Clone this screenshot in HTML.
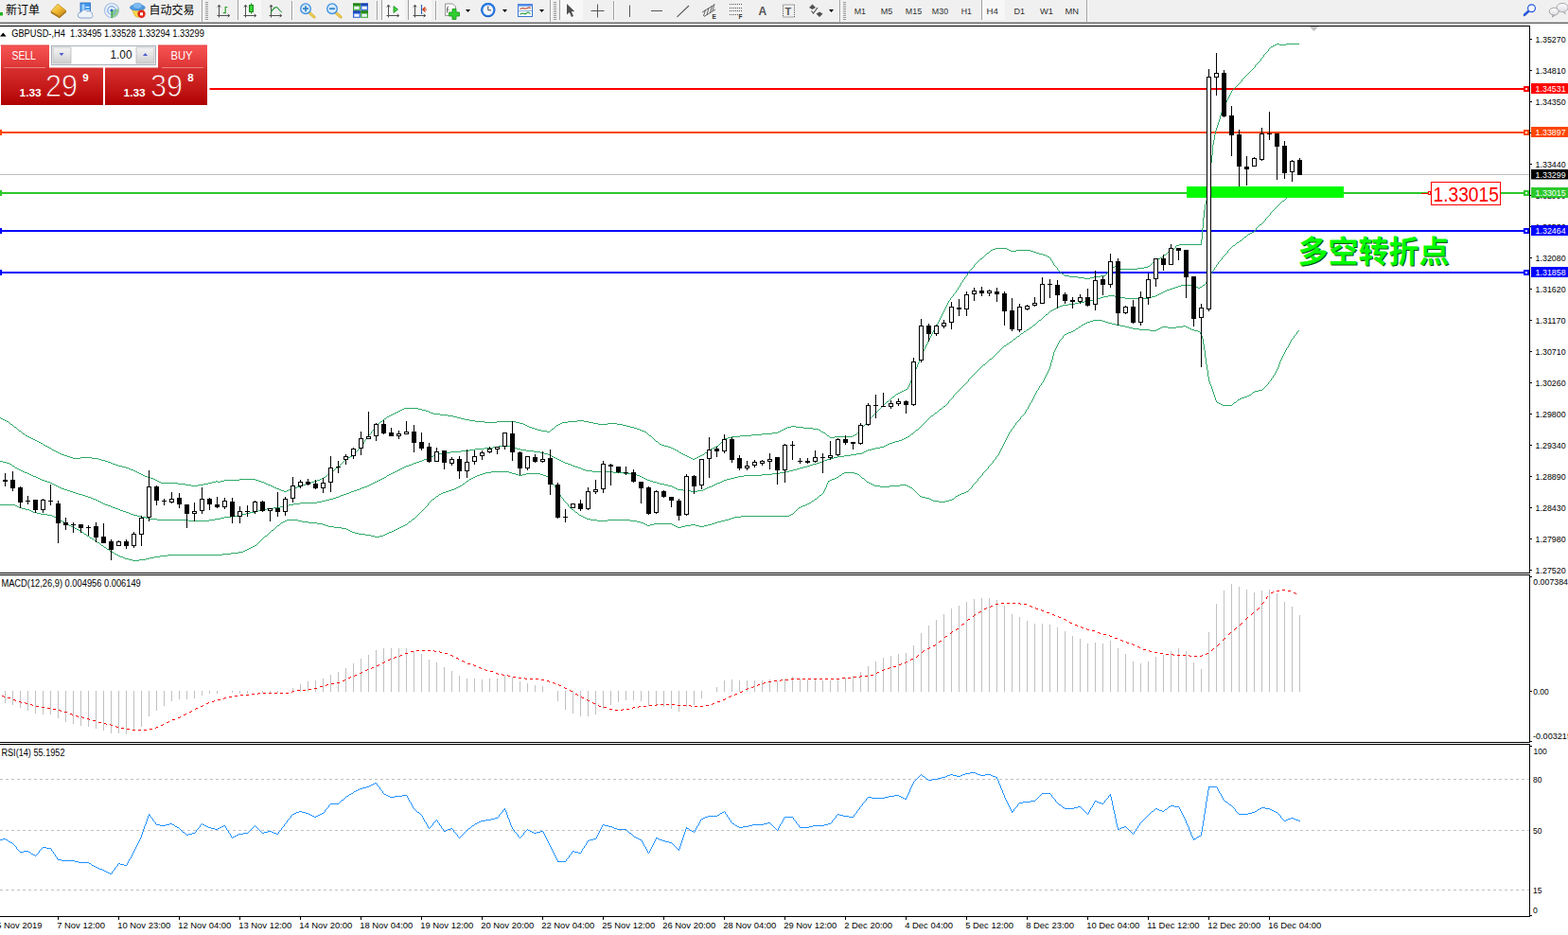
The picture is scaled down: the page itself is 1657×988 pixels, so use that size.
<!DOCTYPE html>
<html><head><meta charset="utf-8"><title>GBPUSD H4</title>
<style>
html,body{margin:0;padding:0;background:#fff;}
body{width:1657px;height:988px;overflow:hidden;position:relative;font-family:"Liberation Sans", sans-serif;}
svg{position:absolute;left:0;top:0;display:block;}
text{font-family:"Liberation Sans", sans-serif;white-space:pre;}
</style></head><body>
<svg width="1657" height="988" viewBox="0 0 1657 988">
<rect x="0" y="0" width="1657" height="988" fill="#fff"/>
<rect x="0" y="0" width="1657" height="22" fill="#f0f0f0"/>
<rect x="0" y="22" width="1657" height="1" fill="#f4f4f4"/>
<rect x="0" y="23" width="1657" height="1" fill="#b0b0b0"/>
<rect x="0" y="24" width="1657" height="1" fill="#696969"/>
<rect x="0" y="13" width="3" height="3.5" fill="#1fb41f"/>
<text x="6" y="14.6" font-size="12" fill="#000" style="font-family:'Liberation Sans','Noto Sans CJK SC',sans-serif">新订单</text>
<defs><linearGradient id="bb" x1="0" y1="0" x2="0" y2="1"><stop offset="0" stop-color="#ffffff"/><stop offset="1" stop-color="#d4d4e0"/></linearGradient><linearGradient id="gd" x1="0" y1="0" x2="1" y2="1"><stop offset="0" stop-color="#ffe680"/><stop offset="0.5" stop-color="#f0b830"/><stop offset="1" stop-color="#b87a10"/></linearGradient></defs>
<path d="M53.8 12 L61 4.2 L70 11.3 L62.8 17.2 Z" fill="url(#gd)" stroke="#c08a18" stroke-width="0.7"/>
<path d="M53.8 12 L62.8 17.2 L70 11.3 L70 13 L62.8 19.2 L53.8 13.8 Z" fill="#a87414"/>
<rect x="85" y="3" width="10.5" height="11" fill="#3f96ea" stroke="#2a6cc0" stroke-width="0.8"/><rect x="86.5" y="4.5" width="3" height="8" fill="#9fd0ff"/><rect x="90.5" y="7" width="4" height="1.2" fill="#e8f4ff"/><rect x="90.5" y="10" width="4" height="1.2" fill="#e8f4ff"/>
<path d="M85 19 a3 3 0 0 1 0.5 -6 a4 4 0 0 1 7 -1 a3.5 3.5 0 0 1 5 3.5 a2.2 2.2 0 0 1 -1.5 3.5 z" fill="#eef3fa" stroke="#7f9cc8" stroke-width="0.9"/>
<circle cx="118" cy="11" r="7.5" fill="#e6eef8" stroke="#a9c0e4" stroke-width="1.2"/><path d="M118 11 L118 18.5 A7.5 7.5 0 0 0 125.3 9 Z" fill="#8fce8f"/><circle cx="118" cy="11" r="4.2" fill="none" stroke="#6f9fe0" stroke-width="1.1"/><circle cx="118" cy="11" r="1.6" fill="#2a62d8"/><rect x="117.5" y="11" width="1.2" height="8" fill="#2aa02a"/>
<path d="M139 9 L152 9 L151 13 L146 18.5 L142.5 17 Z" fill="#f7d84a" stroke="#d8aa20" stroke-width="0.6"/>
<ellipse cx="145.3" cy="8" rx="8" ry="3.1" fill="#4f9ce0" stroke="#3c7cc4" stroke-width="0.6"/><ellipse cx="145.3" cy="6.2" rx="4.6" ry="2.9" fill="#7cbcf2" stroke="#4a8cd0" stroke-width="0.5"/>
<circle cx="149.5" cy="14.8" r="4.2" fill="#e02a1a"/><rect x="148" y="13.3" width="3" height="3" fill="#fff"/>
<text x="157.5" y="14.6" font-size="12" fill="#000" style="font-family:'Liberation Sans','Noto Sans CJK SC',sans-serif">自动交易</text>
<rect x="213" y="0" width="1" height="23" fill="#a0a0a0"/><rect x="214" y="0" width="1" height="23" fill="#fbfbfb"/>
<rect x="217" y="2" width="3" height="1" fill="#9a9a9a"/><rect x="217" y="4" width="3" height="1" fill="#9a9a9a"/><rect x="217" y="6" width="3" height="1" fill="#9a9a9a"/><rect x="217" y="8" width="3" height="1" fill="#9a9a9a"/><rect x="217" y="10" width="3" height="1" fill="#9a9a9a"/><rect x="217" y="12" width="3" height="1" fill="#9a9a9a"/><rect x="217" y="14" width="3" height="1" fill="#9a9a9a"/><rect x="217" y="16" width="3" height="1" fill="#9a9a9a"/><rect x="217" y="18" width="3" height="1" fill="#9a9a9a"/><rect x="217" y="20" width="3" height="1" fill="#9a9a9a"/>
<path d="M231.5 5.5 V18.5 M229.5 16.5 H242.5" stroke="#505050" stroke-width="1" fill="none"/><path d="M229.8 7.6 L231.5 5 L233.2 7.6 M240.6 14.8 L242.8 16.5 L240.6 18.2" stroke="#505050" stroke-width="0.9" fill="none"/>
<path d="M238.2 7 V14.2 M235.8 13.7 H238.2 M238.2 7.5 H240.4" stroke="#2aa02a" stroke-width="1.2" fill="none"/>
<rect x="251" y="0" width="25" height="21" fill="#f7f7f7"/><rect x="251" y="0" width="1" height="21" fill="#a0a0a0"/>
<path d="M259.5 5.5 V18.5 M257.5 16.5 H270.5" stroke="#505050" stroke-width="1" fill="none"/><path d="M257.8 7.6 L259.5 5 L261.2 7.6 M268.6 14.8 L270.8 16.5 L268.6 18.2" stroke="#505050" stroke-width="0.9" fill="none"/>
<rect x="263.5" y="5.5" width="4" height="7" fill="#3ad23a" stroke="#1a8a1a" stroke-width="1"/><path d="M265.5 3.4 V5 M265.5 13 V14.6" stroke="#1a8a1a" stroke-width="1"/>
<path d="M286.5 5.5 V18.5 M284.5 16.5 H297.5" stroke="#505050" stroke-width="1" fill="none"/><path d="M284.8 7.6 L286.5 5 L288.2 7.6 M295.6 14.8 L297.8 16.5 L295.6 18.2" stroke="#505050" stroke-width="0.9" fill="none"/>
<path d="M286 13.5 Q291 5 294 9 T298 12.5" stroke="#2a9a3a" stroke-width="1.2" fill="none"/>
<rect x="308" y="1" width="1" height="20" fill="#a0a0a0"/><rect x="309" y="1" width="1" height="20" fill="#fbfbfb"/>
<path d="M326.5 13 L332 18" stroke="#d8a820" stroke-width="3" stroke-linecap="round"/><path d="M326.5 13 L332 18" stroke="#f4d860" stroke-width="1.2" stroke-linecap="round"/>
<circle cx="323" cy="9.2" r="5.3" fill="#d6ecfa" stroke="#3c8ce0" stroke-width="1.3"/>
<path d="M320 9.2 H326 M323 6.2 V12.2" stroke="#3a86c8" stroke-width="1.8"/>
<path d="M354.5 13 L360 18" stroke="#d8a820" stroke-width="3" stroke-linecap="round"/><path d="M354.5 13 L360 18" stroke="#f4d860" stroke-width="1.2" stroke-linecap="round"/>
<circle cx="351" cy="9.2" r="5.3" fill="#d6ecfa" stroke="#3c8ce0" stroke-width="1.3"/>
<path d="M348 9.2 H354" stroke="#3a86c8" stroke-width="1.8"/>
<rect x="373" y="3.5" width="7.8" height="7.4" fill="#3aa82a"/><rect x="373" y="3.5" width="7.8" height="2" fill="#1f7a12"/><rect x="374.2" y="6.7" width="5.4" height="3.2" fill="#eef4ff"/>
<rect x="381.2" y="3.5" width="7.8" height="7.4" fill="#2a62d8"/><rect x="381.2" y="3.5" width="7.8" height="2" fill="#1840a8"/><rect x="382.4" y="6.7" width="5.4" height="3.2" fill="#eef4ff"/>
<rect x="373" y="11.4" width="7.8" height="7.4" fill="#2a62d8"/><rect x="373" y="11.4" width="7.8" height="2" fill="#1840a8"/><rect x="374.2" y="14.600000000000001" width="5.4" height="3.2" fill="#eef4ff"/>
<rect x="381.2" y="11.4" width="7.8" height="7.4" fill="#3aa82a"/><rect x="381.2" y="11.4" width="7.8" height="2" fill="#1f7a12"/><rect x="382.4" y="14.600000000000001" width="5.4" height="3.2" fill="#eef4ff"/>
<rect x="398" y="1" width="1" height="20" fill="#a0a0a0"/><rect x="399" y="1" width="1" height="20" fill="#fbfbfb"/>
<rect x="403" y="0" width="25" height="21" fill="#f7f7f7"/><rect x="403" y="0" width="1" height="21" fill="#a0a0a0"/>
<path d="M410.5 5.5 V18.5 M408.5 16.5 H421.5" stroke="#505050" stroke-width="1" fill="none"/><path d="M408.8 7.6 L410.5 5 L412.2 7.6 M419.6 14.8 L421.8 16.5 L419.6 18.2" stroke="#505050" stroke-width="0.9" fill="none"/>
<path d="M416 6.5 L420.5 10 L416 13.5 Z" fill="#3ad23a" stroke="#1a8a1a" stroke-width="0.8"/>
<rect x="431" y="0" width="25" height="21" fill="#f7f7f7"/><rect x="431" y="0" width="1" height="21" fill="#a0a0a0"/>
<path d="M438.5 5.5 V18.5 M436.5 16.5 H449.5" stroke="#505050" stroke-width="1" fill="none"/><path d="M436.8 7.6 L438.5 5 L440.2 7.6 M447.6 14.8 L449.8 16.5 L447.6 18.2" stroke="#505050" stroke-width="0.9" fill="none"/>
<path d="M445.5 5 V15" stroke="#2a62b8" stroke-width="1.2"/><path d="M451 10 H447 M449.5 7.5 L446.8 10 L449.5 12.5" stroke="#c83a10" stroke-width="1.2" fill="none"/>
<rect x="460" y="1" width="1" height="20" fill="#a0a0a0"/><rect x="461" y="1" width="1" height="20" fill="#fbfbfb"/>
<path d="M470.5 4 h8 l3 3 v9.5 h-11 z" fill="#fcfcfc" stroke="#8a8a8a" stroke-width="0.9"/><path d="M474 7 q-1.5 0 -1.5 2 v4.5 M472.5 10 h2" stroke="#555" stroke-width="0.9" fill="none"/>
<path d="M478 9.5 h4 v3.5 h3.5 v4 h-3.5 v3.5 h-4 v-3.5 h-3.5 v-4 h3.5 z" fill="#2fd02f" stroke="#189018" stroke-width="0.8"/>
<path d="M492 10 h5 l-2.5 3 z" fill="#000"/>
<circle cx="515.8" cy="10.6" r="7.7" fill="#1a5cc0"/><circle cx="515.8" cy="10.2" r="7.2" fill="#2a7ae4"/><circle cx="515.8" cy="10.6" r="5.4" fill="#f4f7fb"/><path d="M515.8 6.5 V10.8 H519" stroke="#444" stroke-width="1" fill="none"/>
<path d="M531 10 h5 l-2.5 3 z" fill="#000"/>
<rect x="547.5" y="4.5" width="15" height="13" fill="#fafcff" stroke="#3c74d0" stroke-width="1"/><rect x="547.5" y="4.5" width="15" height="2.2" fill="#5a92e6"/><rect x="548" y="11" width="14" height="0.8" fill="#7aa0dc"/><path d="M549.5 9.6 l3 -1 l3 0.6 l3 -1.2 l2.5 0.2" stroke="#b8401a" stroke-width="1.1" fill="none"/><path d="M549.5 15 l3 -1 l2.5 0.8 l3 -2 l2.5 1.8" stroke="#1f9a2a" stroke-width="1.1" fill="none"/>
<path d="M570 10 h5 l-2.5 3 z" fill="#000"/>
<rect x="581" y="0" width="1" height="23" fill="#a0a0a0"/><rect x="582" y="0" width="1" height="23" fill="#fbfbfb"/>
<rect x="585" y="2" width="3" height="1" fill="#9a9a9a"/><rect x="585" y="4" width="3" height="1" fill="#9a9a9a"/><rect x="585" y="6" width="3" height="1" fill="#9a9a9a"/><rect x="585" y="8" width="3" height="1" fill="#9a9a9a"/><rect x="585" y="10" width="3" height="1" fill="#9a9a9a"/><rect x="585" y="12" width="3" height="1" fill="#9a9a9a"/><rect x="585" y="14" width="3" height="1" fill="#9a9a9a"/><rect x="585" y="16" width="3" height="1" fill="#9a9a9a"/><rect x="585" y="18" width="3" height="1" fill="#9a9a9a"/><rect x="585" y="20" width="3" height="1" fill="#9a9a9a"/>
<rect x="591" y="0" width="25" height="21" fill="#f7f7f7"/><rect x="591" y="0" width="1" height="21" fill="#a0a0a0"/>
<path d="M599 4 L599 15.5 L601.8 13 L604 18 L606 17 L603.8 12.2 L607.2 12 Z" fill="#505050"/>
<path d="M631.5 4.5 V18.5 M624.5 11.5 H638.5" stroke="#555" stroke-width="1"/>
<rect x="648" y="1" width="1" height="20" fill="#a0a0a0"/><rect x="649" y="1" width="1" height="20" fill="#fbfbfb"/>
<path d="M665.5 5.5 V18" stroke="#555" stroke-width="1"/><path d="M688 11.5 H700" stroke="#555" stroke-width="1"/><path d="M715.5 17.8 L728 6" stroke="#555" stroke-width="1.1"/>
<path d="M742 13 L754 5.5 M744 17.5 L756 10 M745.5 10.2 L743.5 17 M749 8.2 L747 15.8 M752.5 6 L750.5 13.6 M755 4 L753 11.5" stroke="#555" stroke-width="0.9" fill="none"/>
<text x="752.6" y="19.8" font-size="6.5" font-weight="bold" fill="#333">E</text>
<path d="M771 4.5 H784" stroke="#555" stroke-width="1" stroke-dasharray="1,1"/>
<path d="M771 8.5 H784" stroke="#555" stroke-width="1" stroke-dasharray="1,1"/>
<path d="M771 11.5 H784" stroke="#555" stroke-width="1" stroke-dasharray="1,1"/>
<path d="M771 15.5 H784" stroke="#555" stroke-width="1" stroke-dasharray="1,1"/>
<text x="780.6" y="20" font-size="6.5" font-weight="bold" fill="#333">F</text>
<text x="801.6" y="16" font-size="12" font-weight="bold" fill="#555">A</text>
<rect x="827.5" y="5" width="12" height="13" fill="none" stroke="#555" stroke-width="1" stroke-dasharray="1,1"/><text x="829.6" y="16" font-size="11" font-weight="bold" fill="#555">T</text>
<path d="M858.5 4.5 l3.5 3.5 l-3.5 2 l-3.5 -2 z M866 12.5 l3.5 2 l-3.5 3.5 l-3.5 -3.5 z" fill="#505050"/><path d="M857.5 11.5 l2 2.5 l4.5 -6" stroke="#505050" stroke-width="1.2" fill="none"/>
<path d="M876 10 h5 l-2.5 3 z" fill="#000"/>
<rect x="887" y="0" width="1" height="23" fill="#a0a0a0"/><rect x="888" y="0" width="1" height="23" fill="#fbfbfb"/>
<rect x="891" y="2" width="3" height="1" fill="#9a9a9a"/><rect x="891" y="4" width="3" height="1" fill="#9a9a9a"/><rect x="891" y="6" width="3" height="1" fill="#9a9a9a"/><rect x="891" y="8" width="3" height="1" fill="#9a9a9a"/><rect x="891" y="10" width="3" height="1" fill="#9a9a9a"/><rect x="891" y="12" width="3" height="1" fill="#9a9a9a"/><rect x="891" y="14" width="3" height="1" fill="#9a9a9a"/><rect x="891" y="16" width="3" height="1" fill="#9a9a9a"/><rect x="891" y="18" width="3" height="1" fill="#9a9a9a"/><rect x="891" y="20" width="3" height="1" fill="#9a9a9a"/>
<rect x="1037" y="0" width="25" height="21" fill="#f7f7f7"/><rect x="1037" y="0" width="1" height="21" fill="#a0a0a0"/>
<text x="902.7" y="15" font-size="9.5" fill="#303030" textLength="12.3" lengthAdjust="spacingAndGlyphs">M1</text>
<text x="930.7" y="15" font-size="9.5" fill="#303030" textLength="12.5" lengthAdjust="spacingAndGlyphs">M5</text>
<text x="956.8" y="15" font-size="9.5" fill="#303030" textLength="17.3" lengthAdjust="spacingAndGlyphs">M15</text>
<text x="984.8" y="15" font-size="9.5" fill="#303030" textLength="17.3" lengthAdjust="spacingAndGlyphs">M30</text>
<text x="1015.7" y="15" font-size="9.5" fill="#303030" textLength="11.1" lengthAdjust="spacingAndGlyphs">H1</text>
<text x="1042.6" y="15" font-size="9.5" fill="#303030" textLength="12.3" lengthAdjust="spacingAndGlyphs">H4</text>
<text x="1071.5" y="15" font-size="9.5" fill="#303030" textLength="11.6" lengthAdjust="spacingAndGlyphs">D1</text>
<text x="1099" y="15" font-size="9.5" fill="#303030" textLength="14" lengthAdjust="spacingAndGlyphs">W1</text>
<text x="1125.6" y="15" font-size="9.5" fill="#303030" textLength="14.5" lengthAdjust="spacingAndGlyphs">MN</text>
<rect x="1148" y="0" width="1" height="23" fill="#a0a0a0"/><rect x="1149" y="0" width="1" height="23" fill="#fbfbfb"/>
<path d="M1615.4 11.8 L1611 15.8" stroke="#2a5ad8" stroke-width="2.6" stroke-linecap="round"/><circle cx="1618.5" cy="8.7" r="3.9" fill="#f8f9ff" stroke="#2458d8" stroke-width="1.2"/>
<path d="M1651 12.6 a6 4.6 0 1 1 2.2 -0.3 l1 2.4 l-2.4 -2.1 z" fill="url(#bb)" stroke="#a0a0a0" stroke-width="0.9"/>
<path d="M1642.2 16 a5 3.9 0 1 1 1.6 -0.2 l-3.6 2.2 l1.2 -2.2 z" fill="url(#bb)" stroke="#989898" stroke-width="0.9"/>
<rect x="0" y="27" width="1617" height="1" fill="#000" />
<rect x="0" y="605" width="1617" height="1" fill="#000" />
<rect x="0" y="607" width="1617" height="1" fill="#000" />
<rect x="0" y="784" width="1617" height="1" fill="#000" />
<rect x="0" y="786" width="1617" height="1" fill="#000" />
<rect x="0" y="968" width="1617" height="1" fill="#000" />
<rect x="1616" y="27" width="1" height="579" fill="#000" />
<rect x="1616" y="607" width="1" height="178" fill="#000" />
<rect x="1616" y="786" width="1" height="183" fill="#000" />
<rect x="1617" y="41" width="2" height="1" fill="#000" />
<text x="1622.6" y="44.9" font-size="9.5" fill="#000" textLength="32" lengthAdjust="spacingAndGlyphs" >1.35270</text>
<rect x="1617" y="74" width="2" height="1" fill="#000" />
<text x="1622.6" y="77.9" font-size="9.5" fill="#000" textLength="32" lengthAdjust="spacingAndGlyphs" >1.34810</text>
<rect x="1617" y="107" width="2" height="1" fill="#000" />
<text x="1622.6" y="110.9" font-size="9.5" fill="#000" textLength="32" lengthAdjust="spacingAndGlyphs" >1.34350</text>
<rect x="1617" y="140" width="2" height="1" fill="#000" />
<text x="1622.6" y="143.9" font-size="9.5" fill="#000" textLength="32" lengthAdjust="spacingAndGlyphs" >1.33900</text>
<rect x="1617" y="173" width="2" height="1" fill="#000" />
<text x="1622.6" y="176.9" font-size="9.5" fill="#000" textLength="32" lengthAdjust="spacingAndGlyphs" >1.33440</text>
<rect x="1617" y="206" width="2" height="1" fill="#000" />
<text x="1622.6" y="209.9" font-size="9.5" fill="#000" textLength="32" lengthAdjust="spacingAndGlyphs" >1.32990</text>
<rect x="1617" y="239" width="2" height="1" fill="#000" />
<text x="1622.6" y="242.9" font-size="9.5" fill="#000" textLength="32" lengthAdjust="spacingAndGlyphs" >1.32530</text>
<rect x="1617" y="272" width="2" height="1" fill="#000" />
<text x="1622.6" y="275.9" font-size="9.5" fill="#000" textLength="32" lengthAdjust="spacingAndGlyphs" >1.32080</text>
<rect x="1617" y="305" width="2" height="1" fill="#000" />
<text x="1622.6" y="308.9" font-size="9.5" fill="#000" textLength="32" lengthAdjust="spacingAndGlyphs" >1.31620</text>
<rect x="1617" y="338" width="2" height="1" fill="#000" />
<text x="1622.6" y="341.9" font-size="9.5" fill="#000" textLength="32" lengthAdjust="spacingAndGlyphs" >1.31170</text>
<rect x="1617" y="371" width="2" height="1" fill="#000" />
<text x="1622.6" y="374.9" font-size="9.5" fill="#000" textLength="32" lengthAdjust="spacingAndGlyphs" >1.30710</text>
<rect x="1617" y="404" width="2" height="1" fill="#000" />
<text x="1622.6" y="407.9" font-size="9.5" fill="#000" textLength="32" lengthAdjust="spacingAndGlyphs" >1.30260</text>
<rect x="1617" y="437" width="2" height="1" fill="#000" />
<text x="1622.6" y="440.9" font-size="9.5" fill="#000" textLength="32" lengthAdjust="spacingAndGlyphs" >1.29800</text>
<rect x="1617" y="470" width="2" height="1" fill="#000" />
<text x="1622.6" y="473.9" font-size="9.5" fill="#000" textLength="32" lengthAdjust="spacingAndGlyphs" >1.29340</text>
<rect x="1617" y="503" width="2" height="1" fill="#000" />
<text x="1622.6" y="506.9" font-size="9.5" fill="#000" textLength="32" lengthAdjust="spacingAndGlyphs" >1.28890</text>
<rect x="1617" y="536" width="2" height="1" fill="#000" />
<text x="1622.6" y="539.9" font-size="9.5" fill="#000" textLength="32" lengthAdjust="spacingAndGlyphs" >1.28430</text>
<rect x="1617" y="569" width="2" height="1" fill="#000" />
<text x="1622.6" y="572.9" font-size="9.5" fill="#000" textLength="32" lengthAdjust="spacingAndGlyphs" >1.27980</text>
<rect x="1617" y="602" width="2" height="1" fill="#000" />
<text x="1622.6" y="605.9" font-size="9.5" fill="#000" textLength="32" lengthAdjust="spacingAndGlyphs" >1.27520</text>
<rect x="1617" y="609" width="2" height="1" fill="#000" />
<text x="1620.3" y="618.0" font-size="9.5" fill="#000" textLength="36.6" lengthAdjust="spacingAndGlyphs" >0.007384</text>
<rect x="1617" y="730" width="2" height="1" fill="#000" />
<text x="1620.3" y="734.4" font-size="9.5" fill="#000" textLength="16.5" lengthAdjust="spacingAndGlyphs" >0.00</text>
<rect x="1617" y="783" width="2" height="1" fill="#000" />
<text x="1620.0" y="781" font-size="9.5" fill="#000" textLength="41" lengthAdjust="spacingAndGlyphs" >-0.003215</text>
<rect x="1617" y="788" width="2" height="1" fill="#000" />
<text x="1620.5" y="797" font-size="9.5" fill="#000" textLength="14.2" lengthAdjust="spacingAndGlyphs" >100</text>
<text x="1620" y="826.8" font-size="9.5" fill="#000" textLength="9.4" lengthAdjust="spacingAndGlyphs" >80</text>
<text x="1620" y="881" font-size="9.5" fill="#000" textLength="9.4" lengthAdjust="spacingAndGlyphs" >50</text>
<text x="1620" y="944" font-size="9.5" fill="#000" textLength="9.4" lengthAdjust="spacingAndGlyphs" >15</text>
<text x="1620" y="965" font-size="9.5" fill="#000" textLength="4.8" lengthAdjust="spacingAndGlyphs" >0</text>
<rect x="1617" y="967" width="2" height="1" fill="#000" />
<text x="-3.8" y="981" font-size="9.7" fill="#000" textLength="48.2" lengthAdjust="spacingAndGlyphs" >5 Nov 2019</text>
<rect x="61" y="969" width="1" height="3" fill="#000" />
<text x="60.2" y="981" font-size="9.7" fill="#000" textLength="50.8" lengthAdjust="spacingAndGlyphs" >7 Nov 12:00</text>
<rect x="125" y="969" width="1" height="3" fill="#000" />
<text x="124.2" y="981" font-size="9.7" fill="#000" textLength="56.1" lengthAdjust="spacingAndGlyphs" >10 Nov 23:00</text>
<rect x="189" y="969" width="1" height="3" fill="#000" />
<text x="188.2" y="981" font-size="9.7" fill="#000" textLength="56.1" lengthAdjust="spacingAndGlyphs" >12 Nov 04:00</text>
<rect x="253" y="969" width="1" height="3" fill="#000" />
<text x="252.2" y="981" font-size="9.7" fill="#000" textLength="56.1" lengthAdjust="spacingAndGlyphs" >13 Nov 12:00</text>
<rect x="317" y="969" width="1" height="3" fill="#000" />
<text x="316.2" y="981" font-size="9.7" fill="#000" textLength="56.1" lengthAdjust="spacingAndGlyphs" >14 Nov 20:00</text>
<rect x="381" y="969" width="1" height="3" fill="#000" />
<text x="380.2" y="981" font-size="9.7" fill="#000" textLength="56.1" lengthAdjust="spacingAndGlyphs" >18 Nov 04:00</text>
<rect x="445" y="969" width="1" height="3" fill="#000" />
<text x="444.2" y="981" font-size="9.7" fill="#000" textLength="56.1" lengthAdjust="spacingAndGlyphs" >19 Nov 12:00</text>
<rect x="509" y="969" width="1" height="3" fill="#000" />
<text x="508.2" y="981" font-size="9.7" fill="#000" textLength="56.1" lengthAdjust="spacingAndGlyphs" >20 Nov 20:00</text>
<rect x="573" y="969" width="1" height="3" fill="#000" />
<text x="572.2" y="981" font-size="9.7" fill="#000" textLength="56.1" lengthAdjust="spacingAndGlyphs" >22 Nov 04:00</text>
<rect x="637" y="969" width="1" height="3" fill="#000" />
<text x="636.2" y="981" font-size="9.7" fill="#000" textLength="56.1" lengthAdjust="spacingAndGlyphs" >25 Nov 12:00</text>
<rect x="701" y="969" width="1" height="3" fill="#000" />
<text x="700.2" y="981" font-size="9.7" fill="#000" textLength="56.1" lengthAdjust="spacingAndGlyphs" >26 Nov 20:00</text>
<rect x="765" y="969" width="1" height="3" fill="#000" />
<text x="764.2" y="981" font-size="9.7" fill="#000" textLength="56.1" lengthAdjust="spacingAndGlyphs" >28 Nov 04:00</text>
<rect x="829" y="969" width="1" height="3" fill="#000" />
<text x="828.2" y="981" font-size="9.7" fill="#000" textLength="56.1" lengthAdjust="spacingAndGlyphs" >29 Nov 12:00</text>
<rect x="893" y="969" width="1" height="3" fill="#000" />
<text x="892.2" y="981" font-size="9.7" fill="#000" textLength="50.8" lengthAdjust="spacingAndGlyphs" >2 Dec 20:00</text>
<rect x="957" y="969" width="1" height="3" fill="#000" />
<text x="956.2" y="981" font-size="9.7" fill="#000" textLength="50.8" lengthAdjust="spacingAndGlyphs" >4 Dec 04:00</text>
<rect x="1021" y="969" width="1" height="3" fill="#000" />
<text x="1020.2" y="981" font-size="9.7" fill="#000" textLength="50.8" lengthAdjust="spacingAndGlyphs" >5 Dec 12:00</text>
<rect x="1085" y="969" width="1" height="3" fill="#000" />
<text x="1084.2" y="981" font-size="9.7" fill="#000" textLength="50.8" lengthAdjust="spacingAndGlyphs" >8 Dec 23:00</text>
<rect x="1149" y="969" width="1" height="3" fill="#000" />
<text x="1148.2" y="981" font-size="9.7" fill="#000" textLength="56.1" lengthAdjust="spacingAndGlyphs" >10 Dec 04:00</text>
<rect x="1213" y="969" width="1" height="3" fill="#000" />
<text x="1212.2" y="981" font-size="9.7" fill="#000" textLength="55.4" lengthAdjust="spacingAndGlyphs" >11 Dec 12:00</text>
<rect x="1277" y="969" width="1" height="3" fill="#000" />
<text x="1276.2" y="981" font-size="9.7" fill="#000" textLength="56.1" lengthAdjust="spacingAndGlyphs" >12 Dec 20:00</text>
<rect x="1341" y="969" width="1" height="3" fill="#000" />
<text x="1340.2" y="981" font-size="9.7" fill="#000" textLength="56.1" lengthAdjust="spacingAndGlyphs" >16 Dec 04:00</text>
<rect x="0" y="184" width="1616" height="1" fill="#c0c0c0" />
<rect x="0" y="93" width="1616" height="2" fill="#ff0000" />
<rect x="0" y="139" width="1616" height="2" fill="#ff4500" />
<rect x="0" y="203" width="1616" height="2" fill="#2cc82c" />
<rect x="0" y="243" width="1616" height="2" fill="#0000ff" />
<rect x="0" y="287" width="1616" height="2" fill="#0000ff" />
<rect x="1502" y="204" width="8" height="1" fill="#ff0000" />
<rect x="1509.5" y="202.5" width="2" height="3" fill="#fff" stroke="#ff0000" stroke-width="1"/>
<rect x="1512.5" y="192.5" width="73" height="24" fill="#fff" stroke="#ff0000" stroke-width="1"/>
<text x="1514.5" y="212.7" font-size="22.5" fill="#ff0000" textLength="69.4" lengthAdjust="spacingAndGlyphs" >1.33015</text>
<text x="1372.5" y="277.9" font-size="32" font-weight="bold" fill="#0c4c0c" textLength="160" lengthAdjust="spacingAndGlyphs" style="font-family:'Liberation Sans','Noto Sans CJK SC',sans-serif">多空转折点</text>
<text x="1371.5" y="276.9" font-size="32" font-weight="bold" fill="#00ff00" textLength="160" lengthAdjust="spacingAndGlyphs" style="font-family:'Liberation Sans','Noto Sans CJK SC',sans-serif">多空转折点</text>
<path d="M1275 209h1v3h-1zM1274 212h1v4h-1zM1273 216h1v6h-1zM1272 222h1v8h-1zM1271 230h1v11h-1zM1270 241h1v12h-1zM1269 253h1v6h-1zM1246 258h23v1h-23zM1243 259h3v1h-3zM1242 260h1v2h-1zM1052 262h12v1h-12zM1241 262h1v1h-1zM1049 263h3v1h-3zM1064 263h2v1h-2zM1239 263h2v1h-2zM1047 264h2v1h-2zM1066 264h2v1h-2zM1074 264h15v1h-15zM1237 264h2v1h-2zM1046 265h1v1h-1zM1068 265h6v1h-6zM1089 265h3v1h-3zM1235 265h2v1h-2zM1045 266h1v1h-1zM1092 266h3v1h-3zM1234 266h1v1h-1zM1043 267h2v1h-2zM1095 267h3v1h-3zM1233 267h1v1h-1zM1042 268h1v1h-1zM1098 268h4v1h-4zM1232 268h1v1h-1zM1041 269h1v1h-1zM1102 269h3v1h-3zM1230 269h2v1h-2zM1040 270h1v1h-1zM1105 270h2v1h-2zM1229 270h1v1h-1zM1039 271h1v1h-1zM1107 271h2v1h-2zM1228 271h1v1h-1zM1038 272h1v1h-1zM1109 272h1v1h-1zM1226 272h2v1h-2zM1036 273h2v1h-2zM1110 273h1v2h-1zM1224 273h2v1h-2zM1035 274h1v1h-1zM1222 274h2v1h-2zM1034 275h1v1h-1zM1111 275h1v1h-1zM1220 275h2v1h-2zM1033 276h1v1h-1zM1112 276h1v2h-1zM1219 276h1v1h-1zM1032 277h1v1h-1zM1218 277h1v1h-1zM1031 278h1v1h-1zM1113 278h1v2h-1zM1217 278h1v1h-1zM1030 279h1v1h-1zM1216 279h1v1h-1zM1029 280h1v2h-1zM1114 280h1v1h-1zM1215 280h1v1h-1zM1115 281h1v1h-1zM1178 281h2v1h-2zM1213 281h2v1h-2zM1028 282h1v1h-1zM1116 282h1v1h-1zM1176 282h2v1h-2zM1180 282h2v1h-2zM1209 282h4v1h-4zM1027 283h1v1h-1zM1117 283h1v2h-1zM1175 283h1v1h-1zM1182 283h2v1h-2zM1202 283h7v1h-7zM1026 284h1v1h-1zM1173 284h2v1h-2zM1184 284h18v1h-18zM1025 285h1v1h-1zM1118 285h1v1h-1zM1172 285h1v1h-1zM1024 286h1v2h-1zM1119 286h1v1h-1zM1171 286h1v1h-1zM1120 287h1v1h-1zM1170 287h1v2h-1zM1023 288h1v1h-1zM1121 288h1v1h-1zM1022 289h1v2h-1zM1122 289h2v1h-2zM1169 289h1v1h-1zM1124 290h1v1h-1zM1168 290h1v1h-1zM1021 291h1v1h-1zM1125 291h5v1h-5zM1163 291h5v1h-5zM1020 292h1v1h-1zM1130 292h9v1h-9zM1156 292h7v1h-7zM1019 293h1v2h-1zM1139 293h7v1h-7zM1152 293h4v1h-4zM1146 294h6v1h-6zM1018 295h1v1h-1zM1017 296h1v2h-1zM1016 298h1v1h-1zM1015 299h1v2h-1zM1014 301h1v2h-1zM1013 303h1v1h-1zM1012 304h1v2h-1zM1011 306h1v1h-1zM1010 307h1v2h-1zM1009 309h1v1h-1zM1008 310h1v1h-1zM1007 311h1v2h-1zM1006 313h1v1h-1zM1005 314h1v1h-1zM1004 315h1v2h-1zM1003 317h1v1h-1zM1002 318h1v2h-1zM1001 320h1v2h-1zM1000 322h1v2h-1zM999 324h1v2h-1zM998 326h1v2h-1zM997 328h1v2h-1zM996 330h1v2h-1zM995 332h1v2h-1zM994 334h1v2h-1zM993 336h1v2h-1zM992 338h1v2h-1zM991 340h1v2h-1zM990 342h1v2h-1zM989 344h1v1h-1zM988 345h1v2h-1zM987 347h1v2h-1zM986 349h1v2h-1zM985 351h1v2h-1zM984 353h1v2h-1zM983 355h1v2h-1zM982 357h1v2h-1zM981 359h1v2h-1zM980 361h1v2h-1zM979 363h1v2h-1zM978 365h1v2h-1zM977 367h1v2h-1zM976 369h1v2h-1zM975 371h1v2h-1zM974 373h1v2h-1zM973 375h1v2h-1zM972 377h1v3h-1zM971 380h1v3h-1zM970 383h1v2h-1zM969 385h1v3h-1zM968 388h1v2h-1zM967 390h1v3h-1zM966 393h1v2h-1zM965 395h1v2h-1zM964 397h1v3h-1zM963 400h1v2h-1zM962 402h1v3h-1zM961 405h1v2h-1zM960 407h1v2h-1zM959 409h1v2h-1zM957 411h2v1h-2zM955 412h2v1h-2zM953 413h2v1h-2zM951 414h2v1h-2zM949 415h2v1h-2zM947 416h2v1h-2zM946 417h1v1h-1zM945 418h1v1h-1zM943 419h2v1h-2zM942 420h1v1h-1zM941 421h1v1h-1zM940 422h1v1h-1zM939 423h1v1h-1zM937 424h2v1h-2zM936 425h1v1h-1zM935 426h1v1h-1zM934 427h1v1h-1zM933 428h1v1h-1zM932 429h1v1h-1zM931 430h1v1h-1zM427 431h15v1h-15zM930 431h1v1h-1zM425 432h2v1h-2zM442 432h4v1h-4zM929 432h1v1h-1zM423 433h2v1h-2zM446 433h4v1h-4zM928 433h1v1h-1zM421 434h2v1h-2zM450 434h3v1h-3zM927 434h1v1h-1zM419 435h2v1h-2zM453 435h2v1h-2zM926 435h1v1h-1zM417 436h2v1h-2zM455 436h3v1h-3zM925 436h1v1h-1zM415 437h2v1h-2zM458 437h7v1h-7zM924 437h1v1h-1zM413 438h2v1h-2zM465 438h8v1h-8zM923 438h1v1h-1zM411 439h2v1h-2zM473 439h6v1h-6zM922 439h1v1h-1zM409 440h2v1h-2zM479 440h4v1h-4zM921 440h1v1h-1zM0 441h1v1h-1zM408 441h1v1h-1zM483 441h4v1h-4zM920 441h1v1h-1zM1 442h2v1h-2zM406 442h2v1h-2zM487 442h4v1h-4zM919 442h1v1h-1zM3 443h2v1h-2zM405 443h1v1h-1zM491 443h5v1h-5zM918 443h1v1h-1zM5 444h2v1h-2zM404 444h1v1h-1zM496 444h6v1h-6zM610 444h7v1h-7zM917 444h1v1h-1zM7 445h2v1h-2zM402 445h2v1h-2zM502 445h10v1h-10zM525 445h20v1h-20zM600 445h10v1h-10zM617 445h5v1h-5zM916 445h1v2h-1zM9 446h1v1h-1zM401 446h1v1h-1zM512 446h13v1h-13zM545 446h4v1h-4zM594 446h6v1h-6zM622 446h5v1h-5zM10 447h1v1h-1zM400 447h1v1h-1zM549 447h4v1h-4zM592 447h2v1h-2zM627 447h5v1h-5zM642 447h10v1h-10zM915 447h1v1h-1zM11 448h2v1h-2zM399 448h1v1h-1zM553 448h2v1h-2zM590 448h2v1h-2zM632 448h10v1h-10zM652 448h6v1h-6zM914 448h1v1h-1zM13 449h1v1h-1zM398 449h1v2h-1zM555 449h2v1h-2zM588 449h2v1h-2zM658 449h4v1h-4zM913 449h1v1h-1zM14 450h1v1h-1zM557 450h2v1h-2zM587 450h1v1h-1zM662 450h4v1h-4zM836 450h5v1h-5zM912 450h1v1h-1zM15 451h2v1h-2zM397 451h1v1h-1zM559 451h3v1h-3zM586 451h1v1h-1zM666 451h4v1h-4zM832 451h4v1h-4zM841 451h8v1h-8zM911 451h1v1h-1zM17 452h1v1h-1zM396 452h1v1h-1zM562 452h3v1h-3zM585 452h1v1h-1zM670 452h3v1h-3zM830 452h2v1h-2zM849 452h10v1h-10zM910 452h1v1h-1zM18 453h1v1h-1zM395 453h1v1h-1zM565 453h3v1h-3zM583 453h2v1h-2zM673 453h3v1h-3zM828 453h2v1h-2zM859 453h6v1h-6zM909 453h1v2h-1zM19 454h1v1h-1zM394 454h1v1h-1zM568 454h4v1h-4zM582 454h1v1h-1zM676 454h2v1h-2zM826 454h2v1h-2zM865 454h2v1h-2zM20 455h2v1h-2zM393 455h1v1h-1zM572 455h6v1h-6zM581 455h1v1h-1zM678 455h3v1h-3zM824 455h2v1h-2zM867 455h1v1h-1zM908 455h1v1h-1zM22 456h1v1h-1zM392 456h1v2h-1zM578 456h3v1h-3zM681 456h2v1h-2zM822 456h2v1h-2zM868 456h2v1h-2zM907 456h1v1h-1zM23 457h1v1h-1zM683 457h1v1h-1zM816 457h6v1h-6zM870 457h2v1h-2zM906 457h1v1h-1zM24 458h2v1h-2zM391 458h1v1h-1zM684 458h1v1h-1zM805 458h11v1h-11zM872 458h1v1h-1zM905 458h1v1h-1zM26 459h1v1h-1zM390 459h1v1h-1zM685 459h1v1h-1zM794 459h11v1h-11zM873 459h1v1h-1zM903 459h2v1h-2zM27 460h2v1h-2zM389 460h1v1h-1zM686 460h2v1h-2zM782 460h12v1h-12zM874 460h2v1h-2zM901 460h2v1h-2zM29 461h2v1h-2zM388 461h1v2h-1zM688 461h1v1h-1zM773 461h9v1h-9zM876 461h1v1h-1zM882 461h19v1h-19zM31 462h2v1h-2zM689 462h1v1h-1zM769 462h4v1h-4zM877 462h5v1h-5zM33 463h2v1h-2zM387 463h1v1h-1zM690 463h1v1h-1zM766 463h3v1h-3zM35 464h2v1h-2zM386 464h1v1h-1zM691 464h1v1h-1zM765 464h1v1h-1zM37 465h2v1h-2zM385 465h1v2h-1zM692 465h1v1h-1zM764 465h1v1h-1zM39 466h2v1h-2zM693 466h2v1h-2zM763 466h1v1h-1zM41 467h2v1h-2zM384 467h1v2h-1zM695 467h1v1h-1zM762 467h1v1h-1zM43 468h2v1h-2zM696 468h1v1h-1zM761 468h1v1h-1zM45 469h1v1h-1zM383 469h1v1h-1zM697 469h2v1h-2zM760 469h1v1h-1zM46 470h2v1h-2zM382 470h1v2h-1zM699 470h3v1h-3zM759 470h1v1h-1zM48 471h2v1h-2zM702 471h4v1h-4zM757 471h2v1h-2zM50 472h2v1h-2zM381 472h1v1h-1zM706 472h3v1h-3zM755 472h2v1h-2zM52 473h2v1h-2zM380 473h1v1h-1zM709 473h2v1h-2zM753 473h2v1h-2zM54 474h1v1h-1zM379 474h1v1h-1zM711 474h2v1h-2zM751 474h2v1h-2zM55 475h2v1h-2zM378 475h1v1h-1zM713 475h2v1h-2zM750 475h1v1h-1zM57 476h2v1h-2zM377 476h1v1h-1zM715 476h2v1h-2zM748 476h2v1h-2zM59 477h2v1h-2zM376 477h1v1h-1zM717 477h1v1h-1zM747 477h1v1h-1zM61 478h2v1h-2zM375 478h1v1h-1zM718 478h2v1h-2zM745 478h2v1h-2zM63 479h2v1h-2zM374 479h1v1h-1zM720 479h2v1h-2zM744 479h1v1h-1zM65 480h3v1h-3zM373 480h1v1h-1zM722 480h2v1h-2zM742 480h2v1h-2zM68 481h3v1h-3zM372 481h1v1h-1zM724 481h2v1h-2zM740 481h2v1h-2zM71 482h3v1h-3zM370 482h2v1h-2zM726 482h2v1h-2zM738 482h2v1h-2zM74 483h3v1h-3zM85 483h12v1h-12zM368 483h2v1h-2zM728 483h2v1h-2zM736 483h2v1h-2zM77 484h8v1h-8zM97 484h7v1h-7zM367 484h1v1h-1zM730 484h2v1h-2zM734 484h2v1h-2zM104 485h3v1h-3zM365 485h2v1h-2zM732 485h2v1h-2zM107 486h4v1h-4zM364 486h1v1h-1zM111 487h3v1h-3zM363 487h1v1h-1zM114 488h3v1h-3zM362 488h1v1h-1zM117 489h2v1h-2zM361 489h1v1h-1zM119 490h3v1h-3zM360 490h1v1h-1zM122 491h3v1h-3zM359 491h1v1h-1zM125 492h4v1h-4zM358 492h1v1h-1zM129 493h4v1h-4zM357 493h1v1h-1zM133 494h3v1h-3zM355 494h2v1h-2zM136 495h2v1h-2zM354 495h1v1h-1zM138 496h3v1h-3zM353 496h1v1h-1zM141 497h2v1h-2zM351 497h2v1h-2zM143 498h2v1h-2zM350 498h1v1h-1zM145 499h2v1h-2zM349 499h1v1h-1zM147 500h2v1h-2zM347 500h2v1h-2zM149 501h2v1h-2zM346 501h1v1h-1zM151 502h2v1h-2zM345 502h1v1h-1zM153 503h3v1h-3zM344 503h1v1h-1zM156 504h3v1h-3zM342 504h2v1h-2zM159 505h3v1h-3zM340 505h2v1h-2zM162 506h2v1h-2zM253 506h17v1h-17zM338 506h2v1h-2zM164 507h2v1h-2zM237 507h16v1h-16zM270 507h3v1h-3zM335 507h3v1h-3zM166 508h2v1h-2zM228 508h2v1h-2zM233 508h4v1h-4zM273 508h3v1h-3zM332 508h3v1h-3zM168 509h2v1h-2zM224 509h4v1h-4zM230 509h3v1h-3zM276 509h3v1h-3zM329 509h3v1h-3zM170 510h18v1h-18zM220 510h4v1h-4zM279 510h2v1h-2zM326 510h3v1h-3zM188 511h8v1h-8zM215 511h5v1h-5zM281 511h2v1h-2zM323 511h3v1h-3zM196 512h6v1h-6zM209 512h6v1h-6zM283 512h3v1h-3zM320 512h3v1h-3zM202 513h7v1h-7zM286 513h2v1h-2zM317 513h3v1h-3zM288 514h2v1h-2zM314 514h3v1h-3zM290 515h2v1h-2zM311 515h3v1h-3zM292 516h3v1h-3zM308 516h3v1h-3zM295 517h2v1h-2zM305 517h3v1h-3zM297 518h3v1h-3zM303 518h2v1h-2zM300 519h3v1h-3z" fill="#2ca866" shape-rendering="crispEdges"/>
<path d="M1349 46h3v1h-3zM1359 46h14v1h-14zM1347 47h2v1h-2zM1352 47h7v1h-7zM1345 48h2v1h-2zM1343 49h2v1h-2zM1342 50h1v1h-1zM1341 51h1v1h-1zM1340 52h1v2h-1zM1339 54h1v1h-1zM1338 55h1v1h-1zM1337 56h1v1h-1zM1336 57h1v1h-1zM1335 58h1v2h-1zM1334 60h1v1h-1zM1333 61h1v1h-1zM1332 62h1v2h-1zM1331 64h1v1h-1zM1330 65h1v1h-1zM1329 66h1v1h-1zM1328 67h1v1h-1zM1327 68h1v1h-1zM1326 69h1v2h-1zM1325 71h1v1h-1zM1324 72h1v1h-1zM1323 73h1v1h-1zM1322 74h1v1h-1zM1321 75h1v1h-1zM1320 76h1v1h-1zM1319 77h1v1h-1zM1318 78h1v1h-1zM1317 79h1v1h-1zM1316 80h1v1h-1zM1315 81h1v1h-1zM1314 82h1v1h-1zM1313 83h1v1h-1zM1312 84h1v2h-1zM1311 86h1v1h-1zM1310 87h1v1h-1zM1309 88h1v1h-1zM1308 89h1v1h-1zM1307 90h1v1h-1zM1306 91h1v1h-1zM1305 92h1v1h-1zM1304 93h1v1h-1zM1303 94h1v1h-1zM1302 95h1v1h-1zM1301 96h1v2h-1zM1300 98h1v2h-1zM1299 100h1v2h-1zM1298 102h1v2h-1zM1297 104h1v2h-1zM1296 106h1v2h-1zM1295 108h1v3h-1zM1294 111h1v2h-1zM1293 113h1v2h-1zM1292 115h1v2h-1zM1291 117h1v2h-1zM1290 119h1v3h-1zM1289 122h1v4h-1zM1288 126h1v3h-1zM1287 129h1v3h-1zM1286 132h1v3h-1zM1285 135h1v3h-1zM1284 138h1v4h-1zM1283 142h1v6h-1zM1282 148h1v5h-1zM1281 153h1v11h-1zM1280 164h1v8h-1z" fill="#2ca866" shape-rendering="crispEdges"/>
<path d="M1366 201h1v1h-1zM1365 202h1v1h-1zM1364 203h1v1h-1zM1363 204h1v2h-1zM1362 206h1v1h-1zM1361 207h1v1h-1zM1360 208h1v1h-1zM1359 209h1v1h-1zM1358 210h1v1h-1zM1357 211h1v1h-1zM1355 212h2v1h-2zM1354 213h1v1h-1zM1353 214h1v1h-1zM1352 215h1v1h-1zM1351 216h1v1h-1zM1350 217h1v1h-1zM1349 218h1v1h-1zM1348 219h1v1h-1zM1347 220h1v1h-1zM1346 221h1v1h-1zM1345 222h1v1h-1zM1344 223h1v1h-1zM1343 224h1v1h-1zM1342 225h1v2h-1zM1341 227h1v1h-1zM1340 228h1v1h-1zM1339 229h1v1h-1zM1338 230h1v1h-1zM1337 231h1v2h-1zM1336 233h1v1h-1zM1335 234h1v1h-1zM1334 235h1v1h-1zM1333 236h1v1h-1zM1331 237h2v1h-2zM1330 238h1v1h-1zM1329 239h1v1h-1zM1328 240h1v1h-1zM1327 241h1v2h-1zM1326 243h1v1h-1zM1325 244h1v1h-1zM1323 245h2v1h-2zM1321 246h2v1h-2zM1319 247h2v1h-2zM1318 248h1v1h-1zM1317 249h1v1h-1zM1315 250h2v1h-2zM1314 251h1v1h-1zM1313 252h1v1h-1zM1312 253h1v1h-1zM1310 254h2v1h-2zM1309 255h1v1h-1zM1307 256h2v1h-2zM1306 257h1v1h-1zM1305 258h1v1h-1zM1303 259h2v1h-2zM1302 260h1v1h-1zM1301 261h1v1h-1zM1300 262h1v1h-1zM1299 263h1v1h-1zM1298 264h1v1h-1zM1297 265h1v2h-1zM1296 267h1v1h-1zM1295 268h1v1h-1zM1294 269h1v1h-1zM1293 270h1v1h-1zM1292 271h1v1h-1zM1291 272h1v2h-1zM1290 274h1v1h-1zM1289 275h1v1h-1zM1288 276h1v1h-1zM1287 277h1v2h-1zM1286 279h1v1h-1zM1285 280h1v2h-1zM1284 282h1v1h-1zM1283 283h1v2h-1zM1282 285h1v1h-1zM1281 286h1v2h-1zM1280 288h1v1h-1zM1279 289h1v2h-1zM1278 291h1v1h-1zM1277 292h1v2h-1zM1276 294h1v2h-1zM1275 296h1v2h-1zM1274 298h1v2h-1zM1273 300h1v1h-1zM1248 301h12v1h-12zM1271 301h2v1h-2zM1245 302h3v1h-3zM1260 302h3v1h-3zM1270 302h1v1h-1zM1242 303h3v1h-3zM1263 303h3v1h-3zM1268 303h2v1h-2zM1239 304h3v1h-3zM1266 304h2v1h-2zM1236 305h3v1h-3zM1233 306h3v1h-3zM1231 307h2v1h-2zM1229 308h2v1h-2zM1227 309h2v1h-2zM1225 310h2v1h-2zM1223 311h2v1h-2zM1171 312h7v1h-7zM1221 312h2v1h-2zM1166 313h5v1h-5zM1178 313h6v1h-6zM1217 313h4v1h-4zM1163 314h3v1h-3zM1184 314h5v1h-5zM1214 314h3v1h-3zM1160 315h3v1h-3zM1189 315h25v1h-25zM1156 316h4v1h-4zM1152 317h4v1h-4zM1146 318h6v1h-6zM1140 319h6v1h-6zM1136 320h4v1h-4zM1129 321h7v1h-7zM1123 322h6v1h-6zM1120 323h3v1h-3zM1118 324h2v1h-2zM1116 325h2v1h-2zM1114 326h2v1h-2zM1112 327h2v1h-2zM1110 328h2v1h-2zM1109 329h1v1h-1zM1108 330h1v1h-1zM1107 331h1v1h-1zM1105 332h2v1h-2zM1104 333h1v1h-1zM1103 334h1v1h-1zM1102 335h1v1h-1zM1101 336h1v1h-1zM1100 337h1v1h-1zM1098 338h2v1h-2zM1097 339h1v1h-1zM1096 340h1v1h-1zM1095 341h1v1h-1zM1094 342h1v1h-1zM1092 343h2v1h-2zM1091 344h1v1h-1zM1090 345h1v1h-1zM1088 346h2v1h-2zM1087 347h1v1h-1zM1085 348h2v1h-2zM1084 349h1v1h-1zM1082 350h2v1h-2zM1081 351h1v1h-1zM1079 352h2v1h-2zM1078 353h1v1h-1zM1077 354h1v1h-1zM1075 355h2v1h-2zM1074 356h1v1h-1zM1073 357h1v1h-1zM1071 358h2v1h-2zM1070 359h1v1h-1zM1069 360h1v1h-1zM1067 361h2v1h-2zM1066 362h1v1h-1zM1064 363h2v1h-2zM1063 364h1v1h-1zM1061 365h2v1h-2zM1060 366h1v1h-1zM1059 367h1v1h-1zM1058 368h1v1h-1zM1057 369h1v1h-1zM1056 370h1v1h-1zM1055 371h1v1h-1zM1054 372h1v1h-1zM1053 373h1v1h-1zM1052 374h1v1h-1zM1051 375h1v1h-1zM1050 376h1v1h-1zM1049 377h1v1h-1zM1048 378h1v1h-1zM1046 379h2v1h-2zM1045 380h1v1h-1zM1044 381h1v1h-1zM1043 382h1v1h-1zM1042 383h1v1h-1zM1041 384h1v1h-1zM1039 385h2v1h-2zM1038 386h1v1h-1zM1037 387h1v1h-1zM1036 388h1v1h-1zM1035 389h1v1h-1zM1034 390h1v1h-1zM1033 391h1v1h-1zM1032 392h1v1h-1zM1031 393h1v1h-1zM1030 394h1v1h-1zM1029 395h1v1h-1zM1028 396h1v1h-1zM1027 397h1v1h-1zM1026 398h1v1h-1zM1025 399h1v1h-1zM1024 400h1v1h-1zM1023 401h1v2h-1zM1022 403h1v1h-1zM1021 404h1v1h-1zM1020 405h1v1h-1zM1019 406h1v1h-1zM1018 407h1v1h-1zM1017 408h1v1h-1zM1016 409h1v1h-1zM1015 410h1v1h-1zM1014 411h1v1h-1zM1013 412h1v1h-1zM1012 413h1v1h-1zM1011 414h1v1h-1zM1010 415h1v1h-1zM1009 416h1v1h-1zM1008 417h1v1h-1zM1007 418h1v2h-1zM1006 420h1v1h-1zM1005 421h1v1h-1zM1004 422h1v1h-1zM1003 423h1v1h-1zM1002 424h1v2h-1zM1001 426h1v1h-1zM1000 427h1v1h-1zM999 428h1v1h-1zM997 429h2v1h-2zM996 430h1v1h-1zM995 431h1v1h-1zM993 432h2v1h-2zM992 433h1v1h-1zM991 434h1v1h-1zM990 435h1v1h-1zM988 436h2v1h-2zM987 437h1v1h-1zM986 438h1v1h-1zM984 439h2v1h-2zM983 440h1v1h-1zM982 441h1v1h-1zM981 442h1v1h-1zM980 443h1v1h-1zM979 444h1v1h-1zM978 445h1v1h-1zM977 446h1v1h-1zM976 447h1v1h-1zM975 448h1v1h-1zM974 449h1v1h-1zM973 450h1v1h-1zM972 451h1v1h-1zM971 452h1v1h-1zM970 453h1v1h-1zM968 454h2v1h-2zM967 455h1v1h-1zM966 456h1v1h-1zM965 457h1v1h-1zM963 458h2v1h-2zM962 459h1v1h-1zM961 460h1v1h-1zM959 461h2v1h-2zM957 462h2v1h-2zM955 463h2v1h-2zM953 464h2v1h-2zM950 465h3v1h-3zM946 466h4v1h-4zM943 467h3v1h-3zM940 468h3v1h-3zM938 469h2v1h-2zM936 470h2v1h-2zM527 471h13v1h-13zM934 471h2v1h-2zM521 472h6v1h-6zM540 472h3v1h-3zM930 472h4v1h-4zM512 473h9v1h-9zM543 473h3v1h-3zM925 473h5v1h-5zM502 474h10v1h-10zM546 474h4v1h-4zM921 474h4v1h-4zM496 475h6v1h-6zM550 475h6v1h-6zM917 475h4v1h-4zM487 476h9v1h-9zM556 476h8v1h-8zM915 476h2v1h-2zM476 477h11v1h-11zM564 477h7v1h-7zM913 477h2v1h-2zM468 478h8v1h-8zM571 478h4v1h-4zM911 478h2v1h-2zM464 479h4v1h-4zM575 479h4v1h-4zM905 479h6v1h-6zM460 480h4v1h-4zM579 480h2v1h-2zM899 480h6v1h-6zM458 481h2v1h-2zM581 481h2v1h-2zM892 481h7v1h-7zM456 482h2v1h-2zM583 482h2v1h-2zM885 482h7v1h-7zM454 483h2v1h-2zM585 483h2v1h-2zM881 483h4v1h-4zM451 484h3v1h-3zM587 484h2v1h-2zM877 484h4v1h-4zM448 485h3v1h-3zM589 485h2v1h-2zM874 485h3v1h-3zM446 486h2v1h-2zM591 486h2v1h-2zM871 486h3v1h-3zM0 487h3v1h-3zM443 487h3v1h-3zM593 487h2v1h-2zM869 487h2v1h-2zM3 488h4v1h-4zM440 488h3v1h-3zM595 488h2v1h-2zM866 488h3v1h-3zM7 489h3v1h-3zM437 489h3v1h-3zM597 489h3v1h-3zM863 489h3v1h-3zM10 490h2v1h-2zM435 490h2v1h-2zM600 490h3v1h-3zM859 490h4v1h-4zM12 491h1v1h-1zM432 491h3v1h-3zM603 491h2v1h-2zM856 491h3v1h-3zM13 492h2v1h-2zM429 492h3v1h-3zM605 492h3v1h-3zM853 492h3v1h-3zM15 493h1v1h-1zM427 493h2v1h-2zM608 493h3v1h-3zM849 493h4v1h-4zM16 494h2v1h-2zM425 494h2v1h-2zM611 494h3v1h-3zM845 494h4v1h-4zM18 495h2v1h-2zM423 495h2v1h-2zM614 495h2v1h-2zM842 495h3v1h-3zM20 496h2v1h-2zM421 496h2v1h-2zM616 496h3v1h-3zM838 496h4v1h-4zM22 497h2v1h-2zM419 497h2v1h-2zM619 497h7v1h-7zM834 497h4v1h-4zM24 498h2v1h-2zM417 498h2v1h-2zM626 498h22v1h-22zM830 498h4v1h-4zM26 499h3v1h-3zM415 499h2v1h-2zM648 499h11v1h-11zM824 499h6v1h-6zM29 500h2v1h-2zM413 500h2v1h-2zM659 500h8v1h-8zM816 500h8v1h-8zM31 501h2v1h-2zM411 501h2v1h-2zM667 501h6v1h-6zM805 501h11v1h-11zM33 502h2v1h-2zM409 502h2v1h-2zM673 502h3v1h-3zM786 502h19v1h-19zM35 503h3v1h-3zM408 503h1v1h-1zM676 503h2v1h-2zM780 503h6v1h-6zM38 504h2v1h-2zM406 504h2v1h-2zM678 504h2v1h-2zM776 504h4v1h-4zM40 505h2v1h-2zM404 505h2v1h-2zM680 505h2v1h-2zM772 505h4v1h-4zM42 506h2v1h-2zM402 506h2v1h-2zM682 506h2v1h-2zM768 506h4v1h-4zM44 507h3v1h-3zM400 507h2v1h-2zM684 507h3v1h-3zM765 507h3v1h-3zM47 508h3v1h-3zM398 508h2v1h-2zM687 508h3v1h-3zM763 508h2v1h-2zM50 509h3v1h-3zM396 509h2v1h-2zM690 509h4v1h-4zM761 509h2v1h-2zM53 510h2v1h-2zM394 510h2v1h-2zM694 510h3v1h-3zM758 510h3v1h-3zM55 511h2v1h-2zM392 511h2v1h-2zM697 511h5v1h-5zM756 511h2v1h-2zM57 512h2v1h-2zM390 512h2v1h-2zM702 512h4v1h-4zM754 512h2v1h-2zM59 513h2v1h-2zM388 513h2v1h-2zM706 513h4v1h-4zM752 513h2v1h-2zM61 514h2v1h-2zM385 514h3v1h-3zM710 514h2v1h-2zM749 514h3v1h-3zM63 515h2v1h-2zM382 515h3v1h-3zM712 515h2v1h-2zM747 515h2v1h-2zM65 516h3v1h-3zM380 516h2v1h-2zM714 516h2v1h-2zM745 516h2v1h-2zM68 517h3v1h-3zM377 517h3v1h-3zM716 517h6v1h-6zM743 517h2v1h-2zM71 518h3v1h-3zM374 518h3v1h-3zM722 518h8v1h-8zM737 518h6v1h-6zM74 519h3v1h-3zM371 519h3v1h-3zM730 519h7v1h-7zM77 520h3v1h-3zM369 520h2v1h-2zM80 521h3v1h-3zM366 521h3v1h-3zM83 522h4v1h-4zM363 522h3v1h-3zM87 523h3v1h-3zM360 523h3v1h-3zM90 524h3v1h-3zM358 524h2v1h-2zM93 525h3v1h-3zM355 525h3v1h-3zM96 526h2v1h-2zM352 526h3v1h-3zM98 527h3v1h-3zM348 527h4v1h-4zM101 528h2v1h-2zM344 528h4v1h-4zM103 529h2v1h-2zM340 529h4v1h-4zM105 530h2v1h-2zM335 530h5v1h-5zM107 531h2v1h-2zM317 531h18v1h-18zM109 532h2v1h-2zM310 532h7v1h-7zM111 533h3v1h-3zM305 533h5v1h-5zM114 534h3v1h-3zM300 534h5v1h-5zM117 535h2v1h-2zM296 535h4v1h-4zM119 536h3v1h-3zM289 536h7v1h-7zM122 537h3v1h-3zM282 537h7v1h-7zM125 538h2v1h-2zM278 538h4v1h-4zM127 539h3v1h-3zM273 539h5v1h-5zM130 540h3v1h-3zM269 540h4v1h-4zM133 541h3v1h-3zM264 541h5v1h-5zM136 542h2v1h-2zM260 542h4v1h-4zM138 543h3v1h-3zM255 543h5v1h-5zM141 544h4v1h-4zM251 544h4v1h-4zM145 545h4v1h-4zM244 545h7v1h-7zM149 546h5v1h-5zM237 546h7v1h-7zM154 547h4v1h-4zM233 547h4v1h-4zM158 548h8v1h-8zM227 548h6v1h-6zM166 549h33v1h-33zM221 549h6v1h-6zM199 550h22v1h-22z" fill="#2ca866" shape-rendering="crispEdges"/>
<path d="M1155 338h10v1h-10zM1152 339h3v1h-3zM1165 339h3v1h-3zM1149 340h3v1h-3zM1168 340h3v1h-3zM1147 341h2v1h-2zM1171 341h4v1h-4zM1145 342h2v1h-2zM1175 342h4v1h-4zM1143 343h2v1h-2zM1179 343h5v1h-5zM1142 344h1v1h-1zM1184 344h5v1h-5zM1250 344h3v1h-3zM1140 345h2v1h-2zM1189 345h4v1h-4zM1228 345h6v1h-6zM1243 345h7v1h-7zM1253 345h2v1h-2zM1139 346h1v1h-1zM1193 346h4v1h-4zM1226 346h2v1h-2zM1234 346h9v1h-9zM1255 346h2v1h-2zM1137 347h2v1h-2zM1197 347h7v1h-7zM1224 347h2v1h-2zM1257 347h2v1h-2zM1136 348h1v1h-1zM1204 348h11v1h-11zM1222 348h2v1h-2zM1259 348h3v1h-3zM1134 349h2v1h-2zM1215 349h7v1h-7zM1262 349h4v1h-4zM1372 349h1v1h-1zM1132 350h2v1h-2zM1266 350h2v1h-2zM1371 350h1v1h-1zM1129 351h3v1h-3zM1268 351h1v2h-1zM1370 351h1v2h-1zM1127 352h2v1h-2zM1125 353h2v1h-2zM1269 353h1v2h-1zM1369 353h1v1h-1zM1124 354h1v1h-1zM1368 354h1v1h-1zM1123 355h1v2h-1zM1270 355h1v3h-1zM1367 355h1v2h-1zM1122 357h1v1h-1zM1366 357h1v1h-1zM1121 358h1v1h-1zM1271 358h1v6h-1zM1365 358h1v1h-1zM1120 359h1v1h-1zM1364 359h1v2h-1zM1119 360h1v2h-1zM1363 361h1v2h-1zM1118 362h1v2h-1zM1362 363h1v2h-1zM1117 364h1v2h-1zM1272 364h1v6h-1zM1361 365h1v2h-1zM1116 366h1v2h-1zM1360 367h1v1h-1zM1115 368h1v2h-1zM1359 368h1v2h-1zM1114 370h1v2h-1zM1273 370h1v8h-1zM1358 370h1v2h-1zM1113 372h1v4h-1zM1357 372h1v2h-1zM1356 374h1v2h-1zM1112 376h1v4h-1zM1355 376h1v2h-1zM1274 378h1v7h-1zM1354 378h1v2h-1zM1111 380h1v3h-1zM1353 380h1v2h-1zM1352 382h1v3h-1zM1110 383h1v4h-1zM1275 385h1v6h-1zM1351 385h1v3h-1zM1109 387h1v3h-1zM1350 388h1v2h-1zM1108 390h1v2h-1zM1349 390h1v2h-1zM1276 391h1v7h-1zM1107 392h1v2h-1zM1348 392h1v2h-1zM1106 394h1v2h-1zM1347 394h1v2h-1zM1105 396h1v2h-1zM1346 396h1v1h-1zM1345 397h1v2h-1zM1104 398h1v2h-1zM1277 398h1v5h-1zM1344 399h1v1h-1zM1103 400h1v2h-1zM1343 400h1v2h-1zM1102 402h1v2h-1zM1342 402h1v1h-1zM1278 403h1v3h-1zM1341 403h1v1h-1zM1101 404h1v1h-1zM1340 404h1v2h-1zM1100 405h1v2h-1zM1279 406h1v2h-1zM1339 406h1v1h-1zM1099 407h1v1h-1zM1338 407h1v1h-1zM1098 408h1v2h-1zM1280 408h1v3h-1zM1337 408h1v1h-1zM1336 409h1v1h-1zM1097 410h1v2h-1zM1335 410h1v1h-1zM1281 411h1v3h-1zM1334 411h1v1h-1zM1096 412h1v1h-1zM1330 412h4v1h-4zM1095 413h1v2h-1zM1326 413h4v1h-4zM1282 414h1v3h-1zM1324 414h2v1h-2zM1094 415h1v2h-1zM1323 415h1v1h-1zM1322 416h1v1h-1zM1093 417h1v2h-1zM1283 417h1v3h-1zM1320 417h2v1h-2zM1318 418h2v1h-2zM1092 419h1v2h-1zM1315 419h3v1h-3zM1284 420h1v3h-1zM1312 420h3v1h-3zM1091 421h1v2h-1zM1310 421h2v1h-2zM1308 422h2v1h-2zM1090 423h1v2h-1zM1285 423h1v2h-1zM1307 423h1v1h-1zM1306 424h1v1h-1zM1089 425h1v1h-1zM1286 425h2v1h-2zM1304 425h2v1h-2zM1088 426h1v2h-1zM1288 426h2v1h-2zM1303 426h1v1h-1zM1290 427h2v1h-2zM1302 427h1v1h-1zM1087 428h1v2h-1zM1292 428h10v1h-10zM1086 430h1v2h-1zM1085 432h1v1h-1zM1084 433h1v2h-1zM1083 435h1v2h-1zM1082 437h1v1h-1zM1081 438h1v1h-1zM1080 439h1v1h-1zM1079 440h1v1h-1zM1078 441h1v2h-1zM1077 443h1v1h-1zM1076 444h1v1h-1zM1075 445h1v1h-1zM1074 446h1v1h-1zM1073 447h1v2h-1zM1072 449h1v1h-1zM1071 450h1v2h-1zM1070 452h1v1h-1zM1069 453h1v1h-1zM1068 454h1v2h-1zM1067 456h1v1h-1zM1066 457h1v2h-1zM1065 459h1v2h-1zM1064 461h1v2h-1zM1063 463h1v2h-1zM1062 465h1v2h-1zM1061 467h1v2h-1zM1060 469h1v2h-1zM1059 471h1v2h-1zM1058 473h1v2h-1zM1057 475h1v2h-1zM1056 477h1v2h-1zM1055 479h1v2h-1zM1054 481h1v1h-1zM1053 482h1v1h-1zM1052 483h1v2h-1zM1051 485h1v1h-1zM1050 486h1v1h-1zM1049 487h1v2h-1zM1048 489h1v1h-1zM1047 490h1v1h-1zM1046 491h1v1h-1zM1045 492h1v1h-1zM1044 493h1v2h-1zM1043 495h1v1h-1zM1042 496h1v1h-1zM1041 497h1v1h-1zM519 498h19v1h-19zM1040 498h1v1h-1zM513 499h6v1h-6zM538 499h3v1h-3zM892 499h11v1h-11zM1039 499h1v1h-1zM510 500h3v1h-3zM541 500h4v1h-4zM556 500h15v1h-15zM890 500h2v1h-2zM903 500h3v1h-3zM1038 500h1v2h-1zM507 501h3v1h-3zM545 501h3v1h-3zM552 501h4v1h-4zM571 501h3v1h-3zM889 501h1v1h-1zM906 501h2v1h-2zM504 502h3v1h-3zM548 502h4v1h-4zM574 502h3v1h-3zM887 502h2v1h-2zM908 502h1v1h-1zM1037 502h1v1h-1zM502 503h2v1h-2zM577 503h2v1h-2zM886 503h1v1h-1zM909 503h1v1h-1zM1036 503h1v1h-1zM500 504h2v1h-2zM579 504h1v1h-1zM884 504h2v1h-2zM910 504h1v1h-1zM1035 504h1v1h-1zM498 505h2v1h-2zM580 505h1v2h-1zM882 505h2v1h-2zM911 505h2v1h-2zM1034 505h1v1h-1zM496 506h2v1h-2zM879 506h3v1h-3zM913 506h1v1h-1zM1033 506h1v2h-1zM495 507h1v1h-1zM581 507h1v1h-1zM877 507h2v1h-2zM914 507h1v1h-1zM493 508h2v1h-2zM582 508h1v1h-1zM875 508h2v1h-2zM915 508h1v1h-1zM1032 508h1v1h-1zM492 509h1v1h-1zM583 509h1v2h-1zM875 509h1v1h-1zM916 509h2v1h-2zM1031 509h1v1h-1zM491 510h1v1h-1zM874 510h1v2h-1zM918 510h2v1h-2zM1030 510h1v1h-1zM489 511h2v1h-2zM584 511h1v1h-1zM920 511h2v1h-2zM1029 511h1v1h-1zM488 512h1v1h-1zM585 512h1v1h-1zM873 512h1v3h-1zM922 512h2v1h-2zM951 512h7v1h-7zM1028 512h1v1h-1zM486 513h2v1h-2zM586 513h1v2h-1zM924 513h6v1h-6zM940 513h11v1h-11zM958 513h2v1h-2zM1027 513h1v2h-1zM484 514h2v1h-2zM930 514h10v1h-10zM960 514h2v1h-2zM482 515h2v1h-2zM587 515h1v2h-1zM872 515h1v2h-1zM962 515h2v1h-2zM1026 515h1v1h-1zM480 516h2v1h-2zM964 516h1v1h-1zM1025 516h1v1h-1zM477 517h3v1h-3zM588 517h1v1h-1zM871 517h1v2h-1zM965 517h1v1h-1zM1024 517h1v1h-1zM474 518h3v1h-3zM589 518h1v2h-1zM966 518h1v1h-1zM1023 518h1v1h-1zM471 519h3v1h-3zM870 519h1v2h-1zM967 519h1v1h-1zM1021 519h2v1h-2zM468 520h3v1h-3zM590 520h1v1h-1zM968 520h1v1h-1zM1019 520h2v1h-2zM466 521h2v1h-2zM591 521h1v2h-1zM869 521h1v1h-1zM969 521h1v1h-1zM1016 521h3v1h-3zM464 522h2v1h-2zM868 522h1v1h-1zM970 522h1v1h-1zM1014 522h2v1h-2zM463 523h1v1h-1zM592 523h1v2h-1zM866 523h2v1h-2zM971 523h1v1h-1zM1012 523h2v1h-2zM461 524h2v1h-2zM865 524h1v1h-1zM972 524h2v1h-2zM1010 524h2v1h-2zM460 525h1v1h-1zM593 525h1v1h-1zM864 525h1v1h-1zM974 525h4v1h-4zM1009 525h1v1h-1zM459 526h1v1h-1zM594 526h1v1h-1zM863 526h1v1h-1zM978 526h4v1h-4zM1008 526h1v1h-1zM457 527h2v1h-2zM595 527h1v2h-1zM861 527h2v1h-2zM982 527h2v1h-2zM1006 527h2v1h-2zM456 528h1v1h-1zM860 528h1v1h-1zM984 528h2v1h-2zM1003 528h3v1h-3zM455 529h1v1h-1zM596 529h1v1h-1zM858 529h2v1h-2zM986 529h6v1h-6zM999 529h4v1h-4zM454 530h1v1h-1zM597 530h1v1h-1zM857 530h1v1h-1zM992 530h7v1h-7zM453 531h1v1h-1zM598 531h1v1h-1zM855 531h2v1h-2zM452 532h1v2h-1zM599 532h1v1h-1zM853 532h2v1h-2zM0 533h16v1h-16zM600 533h1v2h-1zM851 533h2v1h-2zM16 534h2v1h-2zM451 534h1v1h-1zM848 534h3v1h-3zM18 535h2v1h-2zM450 535h1v1h-1zM601 535h1v1h-1zM846 535h2v1h-2zM20 536h3v1h-3zM449 536h1v1h-1zM602 536h1v1h-1zM844 536h2v1h-2zM23 537h4v1h-4zM448 537h1v1h-1zM603 537h1v1h-1zM843 537h1v1h-1zM27 538h4v1h-4zM447 538h1v1h-1zM604 538h2v1h-2zM842 538h1v1h-1zM31 539h2v1h-2zM446 539h1v1h-1zM606 539h1v1h-1zM841 539h1v1h-1zM33 540h2v1h-2zM445 540h1v1h-1zM607 540h1v1h-1zM840 540h1v1h-1zM35 541h4v1h-4zM444 541h1v1h-1zM608 541h2v1h-2zM839 541h1v1h-1zM39 542h4v1h-4zM443 542h1v1h-1zM610 542h1v1h-1zM838 542h1v1h-1zM43 543h7v1h-7zM442 543h1v1h-1zM611 543h1v1h-1zM836 543h2v1h-2zM50 544h5v1h-5zM441 544h1v1h-1zM612 544h2v1h-2zM834 544h2v1h-2zM55 545h2v1h-2zM440 545h1v1h-1zM614 545h2v1h-2zM783 545h51v1h-51zM57 546h2v1h-2zM439 546h1v1h-1zM616 546h2v1h-2zM776 546h7v1h-7zM59 547h2v1h-2zM438 547h1v1h-1zM618 547h2v1h-2zM773 547h3v1h-3zM61 548h2v1h-2zM436 548h2v1h-2zM620 548h4v1h-4zM770 548h3v1h-3zM63 549h1v1h-1zM303 549h12v1h-12zM435 549h1v1h-1zM624 549h7v1h-7zM642 549h24v1h-24zM766 549h4v1h-4zM64 550h2v1h-2zM301 550h2v1h-2zM315 550h4v1h-4zM434 550h1v1h-1zM631 550h11v1h-11zM666 550h7v1h-7zM762 550h4v1h-4zM66 551h2v1h-2zM299 551h2v1h-2zM319 551h7v1h-7zM432 551h2v1h-2zM673 551h4v1h-4zM758 551h4v1h-4zM68 552h2v1h-2zM297 552h2v1h-2zM326 552h9v1h-9zM431 552h1v1h-1zM677 552h3v1h-3zM755 552h3v1h-3zM70 553h2v1h-2zM296 553h1v1h-1zM335 553h6v1h-6zM430 553h1v1h-1zM680 553h2v1h-2zM691 553h19v1h-19zM752 553h3v1h-3zM72 554h1v1h-1zM295 554h1v1h-1zM341 554h3v1h-3zM428 554h2v1h-2zM682 554h2v1h-2zM687 554h4v1h-4zM710 554h2v1h-2zM730 554h5v1h-5zM748 554h4v1h-4zM73 555h2v1h-2zM293 555h2v1h-2zM344 555h3v1h-3zM426 555h2v1h-2zM684 555h3v1h-3zM712 555h2v1h-2zM724 555h6v1h-6zM735 555h4v1h-4zM744 555h4v1h-4zM75 556h2v1h-2zM292 556h1v1h-1zM347 556h6v1h-6zM424 556h2v1h-2zM714 556h2v1h-2zM720 556h4v1h-4zM739 556h5v1h-5zM77 557h2v1h-2zM291 557h1v1h-1zM353 557h8v1h-8zM422 557h2v1h-2zM716 557h4v1h-4zM79 558h2v1h-2zM290 558h1v1h-1zM361 558h5v1h-5zM420 558h2v1h-2zM81 559h2v1h-2zM289 559h1v1h-1zM366 559h2v1h-2zM418 559h2v1h-2zM83 560h2v1h-2zM287 560h2v1h-2zM368 560h2v1h-2zM416 560h2v1h-2zM85 561h1v1h-1zM286 561h1v1h-1zM370 561h2v1h-2zM414 561h2v1h-2zM86 562h2v1h-2zM285 562h1v1h-1zM372 562h3v1h-3zM411 562h3v1h-3zM88 563h1v1h-1zM284 563h1v1h-1zM375 563h4v1h-4zM409 563h2v1h-2zM89 564h2v1h-2zM283 564h1v1h-1zM379 564h7v1h-7zM407 564h2v1h-2zM91 565h1v1h-1zM282 565h1v1h-1zM386 565h6v1h-6zM405 565h2v1h-2zM92 566h2v1h-2zM280 566h2v1h-2zM392 566h4v1h-4zM401 566h4v1h-4zM94 567h1v1h-1zM279 567h1v1h-1zM396 567h5v1h-5zM95 568h2v1h-2zM278 568h1v1h-1zM97 569h2v1h-2zM277 569h1v1h-1zM99 570h1v1h-1zM276 570h1v1h-1zM100 571h2v1h-2zM275 571h1v1h-1zM102 572h1v1h-1zM274 572h1v1h-1zM103 573h2v1h-2zM273 573h1v1h-1zM105 574h1v1h-1zM272 574h1v1h-1zM106 575h1v1h-1zM271 575h1v1h-1zM107 576h2v1h-2zM269 576h2v1h-2zM109 577h1v1h-1zM267 577h2v1h-2zM110 578h2v1h-2zM265 578h2v1h-2zM112 579h1v1h-1zM263 579h2v1h-2zM113 580h2v1h-2zM261 580h2v1h-2zM115 581h1v1h-1zM259 581h2v1h-2zM116 582h2v1h-2zM257 582h2v1h-2zM118 583h2v1h-2zM252 583h5v1h-5zM120 584h1v1h-1zM244 584h8v1h-8zM121 585h2v1h-2zM235 585h9v1h-9zM123 586h2v1h-2zM177 586h58v1h-58zM125 587h2v1h-2zM169 587h8v1h-8zM127 588h3v1h-3zM163 588h6v1h-6zM130 589h2v1h-2zM158 589h5v1h-5zM132 590h4v1h-4zM154 590h4v1h-4zM136 591h4v1h-4zM147 591h7v1h-7zM140 592h7v1h-7z" fill="#2ca866" shape-rendering="crispEdges"/>
<rect x="1254" y="197" width="166" height="12" fill="#00fc00" />
<g shape-rendering="crispEdges"><rect x="5" y="500" width="1" height="14" fill="#000"/><rect x="3" y="507" width="5" height="2" fill="#000"/><rect x="13" y="498" width="1" height="21" fill="#000"/><rect x="11" y="507" width="5" height="9" fill="#000"/><rect x="21" y="514" width="1" height="23" fill="#000"/><rect x="19" y="515" width="5" height="16" fill="#000"/><rect x="29" y="524" width="1" height="9" fill="#000"/><rect x="27" y="529" width="5" height="1" fill="#000"/><rect x="37" y="528" width="1" height="14" fill="#000"/><rect x="35" y="528" width="5" height="11" fill="#000"/><rect x="45" y="527" width="1" height="15" fill="#000"/><rect x="43" y="528" width="5" height="11" fill="#000"/><rect x="44" y="529" width="3" height="9" fill="#fff"/><rect x="53" y="512" width="1" height="22" fill="#000"/><rect x="51" y="529" width="5" height="1" fill="#000"/><rect x="61" y="529" width="1" height="45" fill="#000"/><rect x="59" y="532" width="5" height="21" fill="#000"/><rect x="69" y="547" width="1" height="13" fill="#000"/><rect x="67" y="552" width="5" height="3" fill="#000"/><rect x="77" y="552" width="1" height="11" fill="#000"/><rect x="75" y="554" width="5" height="1" fill="#000"/><rect x="85" y="554" width="1" height="9" fill="#000"/><rect x="83" y="554" width="5" height="4" fill="#000"/><rect x="93" y="555" width="1" height="11" fill="#000"/><rect x="91" y="557" width="5" height="1" fill="#000"/><rect x="101" y="552" width="1" height="21" fill="#000"/><rect x="99" y="556" width="5" height="12" fill="#000"/><rect x="109" y="553" width="1" height="21" fill="#000"/><rect x="107" y="567" width="5" height="7" fill="#000"/><rect x="117" y="570" width="1" height="22" fill="#000"/><rect x="115" y="572" width="5" height="9" fill="#000"/><rect x="125" y="571" width="1" height="6" fill="#000"/><rect x="123" y="572" width="5" height="5" fill="#000"/><rect x="124" y="573" width="3" height="3" fill="#fff"/><rect x="133" y="570" width="1" height="10" fill="#000"/><rect x="131" y="572" width="5" height="5" fill="#000"/><rect x="141" y="562" width="1" height="17" fill="#000"/><rect x="139" y="564" width="5" height="13" fill="#000"/><rect x="140" y="565" width="3" height="11" fill="#fff"/><rect x="149" y="545" width="1" height="32" fill="#000"/><rect x="147" y="547" width="5" height="18" fill="#000"/><rect x="148" y="548" width="3" height="16" fill="#fff"/><rect x="157" y="497" width="1" height="54" fill="#000"/><rect x="155" y="514" width="5" height="33" fill="#000"/><rect x="156" y="515" width="3" height="31" fill="#fff"/><rect x="165" y="513" width="1" height="21" fill="#000"/><rect x="163" y="514" width="5" height="15" fill="#000"/><rect x="173" y="527" width="1" height="7" fill="#000"/><rect x="171" y="529" width="5" height="1" fill="#000"/><rect x="181" y="520" width="1" height="12" fill="#000"/><rect x="179" y="527" width="5" height="4" fill="#000"/><rect x="180" y="528" width="3" height="2" fill="#fff"/><rect x="189" y="521" width="1" height="16" fill="#000"/><rect x="187" y="526" width="5" height="7" fill="#000"/><rect x="197" y="533" width="1" height="25" fill="#000"/><rect x="195" y="533" width="5" height="10" fill="#000"/><rect x="205" y="531" width="1" height="20" fill="#000"/><rect x="203" y="540" width="5" height="3" fill="#000"/><rect x="204" y="541" width="3" height="1" fill="#fff"/><rect x="213" y="515" width="1" height="28" fill="#000"/><rect x="211" y="527" width="5" height="13" fill="#000"/><rect x="212" y="528" width="3" height="11" fill="#fff"/><rect x="221" y="526" width="1" height="13" fill="#000"/><rect x="219" y="527" width="5" height="6" fill="#000"/><rect x="229" y="525" width="1" height="12" fill="#000"/><rect x="227" y="533" width="5" height="3" fill="#000"/><rect x="237" y="526" width="1" height="12" fill="#000"/><rect x="235" y="529" width="5" height="7" fill="#000"/><rect x="236" y="530" width="3" height="5" fill="#fff"/><rect x="245" y="526" width="1" height="27" fill="#000"/><rect x="243" y="530" width="5" height="16" fill="#000"/><rect x="253" y="535" width="1" height="18" fill="#000"/><rect x="251" y="540" width="5" height="6" fill="#000"/><rect x="252" y="541" width="3" height="4" fill="#fff"/><rect x="261" y="534" width="1" height="12" fill="#000"/><rect x="259" y="540" width="5" height="1" fill="#000"/><rect x="269" y="529" width="1" height="14" fill="#000"/><rect x="267" y="530" width="5" height="11" fill="#000"/><rect x="268" y="531" width="3" height="9" fill="#fff"/><rect x="277" y="529" width="1" height="12" fill="#000"/><rect x="275" y="530" width="5" height="10" fill="#000"/><rect x="285" y="537" width="1" height="14" fill="#000"/><rect x="283" y="537" width="5" height="3" fill="#000"/><rect x="284" y="538" width="3" height="1" fill="#fff"/><rect x="293" y="520" width="1" height="26" fill="#000"/><rect x="291" y="537" width="5" height="4" fill="#000"/><rect x="301" y="525" width="1" height="20" fill="#000"/><rect x="299" y="527" width="5" height="14" fill="#000"/><rect x="300" y="528" width="3" height="12" fill="#fff"/><rect x="309" y="504" width="1" height="27" fill="#000"/><rect x="307" y="513" width="5" height="14" fill="#000"/><rect x="308" y="514" width="3" height="12" fill="#fff"/><rect x="317" y="507" width="1" height="9" fill="#000"/><rect x="315" y="509" width="5" height="5" fill="#000"/><rect x="316" y="510" width="3" height="3" fill="#fff"/><rect x="325" y="506" width="1" height="7" fill="#000"/><rect x="323" y="509" width="5" height="3" fill="#000"/><rect x="333" y="507" width="1" height="10" fill="#000"/><rect x="331" y="511" width="5" height="5" fill="#000"/><rect x="341" y="505" width="1" height="16" fill="#000"/><rect x="339" y="510" width="5" height="6" fill="#000"/><rect x="340" y="511" width="3" height="4" fill="#fff"/><rect x="349" y="482" width="1" height="38" fill="#000"/><rect x="347" y="494" width="5" height="16" fill="#000"/><rect x="348" y="495" width="3" height="14" fill="#fff"/><rect x="357" y="487" width="1" height="13" fill="#000"/><rect x="355" y="493" width="5" height="1" fill="#000"/><rect x="365" y="480" width="1" height="11" fill="#000"/><rect x="363" y="482" width="5" height="4" fill="#000"/><rect x="364" y="483" width="3" height="2" fill="#fff"/><rect x="373" y="473" width="1" height="12" fill="#000"/><rect x="371" y="474" width="5" height="8" fill="#000"/><rect x="372" y="475" width="3" height="6" fill="#fff"/><rect x="381" y="456" width="1" height="25" fill="#000"/><rect x="379" y="463" width="5" height="11" fill="#000"/><rect x="380" y="464" width="3" height="9" fill="#fff"/><rect x="389" y="435" width="1" height="29" fill="#000"/><rect x="387" y="461" width="5" height="3" fill="#000"/><rect x="388" y="462" width="3" height="1" fill="#fff"/><rect x="397" y="447" width="1" height="19" fill="#000"/><rect x="395" y="448" width="5" height="13" fill="#000"/><rect x="396" y="449" width="3" height="11" fill="#fff"/><rect x="405" y="444" width="1" height="15" fill="#000"/><rect x="403" y="448" width="5" height="10" fill="#000"/><rect x="413" y="452" width="1" height="9" fill="#000"/><rect x="411" y="457" width="5" height="4" fill="#000"/><rect x="421" y="455" width="1" height="9" fill="#000"/><rect x="419" y="458" width="5" height="3" fill="#000"/><rect x="420" y="459" width="3" height="1" fill="#fff"/><rect x="429" y="445" width="1" height="14" fill="#000"/><rect x="427" y="456" width="5" height="3" fill="#000"/><rect x="428" y="457" width="3" height="1" fill="#fff"/><rect x="437" y="449" width="1" height="29" fill="#000"/><rect x="435" y="456" width="5" height="12" fill="#000"/><rect x="445" y="457" width="1" height="19" fill="#000"/><rect x="443" y="467" width="5" height="7" fill="#000"/><rect x="453" y="468" width="1" height="21" fill="#000"/><rect x="451" y="472" width="5" height="16" fill="#000"/><rect x="461" y="473" width="1" height="15" fill="#000"/><rect x="459" y="477" width="5" height="11" fill="#000"/><rect x="460" y="478" width="3" height="9" fill="#fff"/><rect x="469" y="476" width="1" height="20" fill="#000"/><rect x="467" y="476" width="5" height="13" fill="#000"/><rect x="477" y="483" width="1" height="9" fill="#000"/><rect x="475" y="485" width="5" height="5" fill="#000"/><rect x="476" y="486" width="3" height="3" fill="#fff"/><rect x="485" y="482" width="1" height="24" fill="#000"/><rect x="483" y="485" width="5" height="13" fill="#000"/><rect x="493" y="475" width="1" height="30" fill="#000"/><rect x="491" y="488" width="5" height="10" fill="#000"/><rect x="492" y="489" width="3" height="8" fill="#fff"/><rect x="501" y="476" width="1" height="15" fill="#000"/><rect x="499" y="482" width="5" height="6" fill="#000"/><rect x="500" y="483" width="3" height="4" fill="#fff"/><rect x="509" y="476" width="1" height="10" fill="#000"/><rect x="507" y="478" width="5" height="4" fill="#000"/><rect x="508" y="479" width="3" height="2" fill="#fff"/><rect x="517" y="472" width="1" height="7" fill="#000"/><rect x="515" y="474" width="5" height="4" fill="#000"/><rect x="516" y="475" width="3" height="2" fill="#fff"/><rect x="525" y="472" width="1" height="8" fill="#000"/><rect x="523" y="472" width="5" height="3" fill="#000"/><rect x="524" y="473" width="3" height="1" fill="#fff"/><rect x="533" y="457" width="1" height="18" fill="#000"/><rect x="531" y="457" width="5" height="15" fill="#000"/><rect x="532" y="458" width="3" height="13" fill="#fff"/><rect x="541" y="445" width="1" height="42" fill="#000"/><rect x="539" y="458" width="5" height="20" fill="#000"/><rect x="549" y="477" width="1" height="25" fill="#000"/><rect x="547" y="478" width="5" height="17" fill="#000"/><rect x="557" y="482" width="1" height="15" fill="#000"/><rect x="555" y="482" width="5" height="13" fill="#000"/><rect x="556" y="483" width="3" height="11" fill="#fff"/><rect x="565" y="480" width="1" height="9" fill="#000"/><rect x="563" y="483" width="5" height="5" fill="#000"/><rect x="573" y="477" width="1" height="12" fill="#000"/><rect x="571" y="485" width="5" height="3" fill="#000"/><rect x="572" y="486" width="3" height="1" fill="#fff"/><rect x="581" y="475" width="1" height="48" fill="#000"/><rect x="579" y="484" width="5" height="28" fill="#000"/><rect x="589" y="510" width="1" height="38" fill="#000"/><rect x="587" y="512" width="5" height="35" fill="#000"/><rect x="597" y="538" width="1" height="14" fill="#000"/><rect x="595" y="546" width="5" height="1" fill="#000"/><rect x="605" y="532" width="1" height="5" fill="#000"/><rect x="603" y="532" width="5" height="5" fill="#000"/><rect x="604" y="533" width="3" height="3" fill="#fff"/><rect x="613" y="528" width="1" height="12" fill="#000"/><rect x="611" y="532" width="5" height="6" fill="#000"/><rect x="621" y="515" width="1" height="24" fill="#000"/><rect x="619" y="519" width="5" height="19" fill="#000"/><rect x="620" y="520" width="3" height="17" fill="#fff"/><rect x="629" y="507" width="1" height="15" fill="#000"/><rect x="627" y="517" width="5" height="3" fill="#000"/><rect x="628" y="518" width="3" height="1" fill="#fff"/><rect x="637" y="487" width="1" height="34" fill="#000"/><rect x="635" y="490" width="5" height="27" fill="#000"/><rect x="636" y="491" width="3" height="25" fill="#fff"/><rect x="645" y="490" width="1" height="23" fill="#000"/><rect x="643" y="491" width="5" height="2" fill="#000"/><rect x="653" y="493" width="1" height="7" fill="#000"/><rect x="651" y="493" width="5" height="6" fill="#000"/><rect x="661" y="493" width="1" height="9" fill="#000"/><rect x="659" y="499" width="5" height="1" fill="#000"/><rect x="669" y="496" width="1" height="14" fill="#000"/><rect x="667" y="499" width="5" height="10" fill="#000"/><rect x="677" y="509" width="1" height="23" fill="#000"/><rect x="675" y="509" width="5" height="7" fill="#000"/><rect x="685" y="514" width="1" height="30" fill="#000"/><rect x="683" y="515" width="5" height="28" fill="#000"/><rect x="693" y="518" width="1" height="25" fill="#000"/><rect x="691" y="519" width="5" height="23" fill="#000"/><rect x="692" y="520" width="3" height="21" fill="#fff"/><rect x="701" y="518" width="1" height="8" fill="#000"/><rect x="699" y="519" width="5" height="6" fill="#000"/><rect x="709" y="525" width="1" height="11" fill="#000"/><rect x="707" y="525" width="5" height="4" fill="#000"/><rect x="717" y="527" width="1" height="23" fill="#000"/><rect x="715" y="529" width="5" height="16" fill="#000"/><rect x="725" y="501" width="1" height="44" fill="#000"/><rect x="723" y="503" width="5" height="41" fill="#000"/><rect x="724" y="504" width="3" height="39" fill="#fff"/><rect x="733" y="502" width="1" height="20" fill="#000"/><rect x="731" y="503" width="5" height="11" fill="#000"/><rect x="741" y="485" width="1" height="32" fill="#000"/><rect x="739" y="485" width="5" height="28" fill="#000"/><rect x="740" y="486" width="3" height="26" fill="#fff"/><rect x="749" y="462" width="1" height="43" fill="#000"/><rect x="747" y="475" width="5" height="10" fill="#000"/><rect x="748" y="476" width="3" height="8" fill="#fff"/><rect x="757" y="472" width="1" height="11" fill="#000"/><rect x="755" y="474" width="5" height="3" fill="#000"/><rect x="765" y="459" width="1" height="20" fill="#000"/><rect x="763" y="464" width="5" height="13" fill="#000"/><rect x="764" y="465" width="3" height="11" fill="#fff"/><rect x="773" y="462" width="1" height="27" fill="#000"/><rect x="771" y="464" width="5" height="22" fill="#000"/><rect x="781" y="481" width="1" height="16" fill="#000"/><rect x="779" y="484" width="5" height="11" fill="#000"/><rect x="789" y="487" width="1" height="10" fill="#000"/><rect x="787" y="492" width="5" height="3" fill="#000"/><rect x="788" y="493" width="3" height="1" fill="#fff"/><rect x="797" y="486" width="1" height="8" fill="#000"/><rect x="795" y="488" width="5" height="4" fill="#000"/><rect x="796" y="489" width="3" height="2" fill="#fff"/><rect x="805" y="486" width="1" height="6" fill="#000"/><rect x="803" y="487" width="5" height="3" fill="#000"/><rect x="804" y="488" width="3" height="1" fill="#fff"/><rect x="813" y="479" width="1" height="17" fill="#000"/><rect x="811" y="485" width="5" height="3" fill="#000"/><rect x="812" y="486" width="3" height="1" fill="#fff"/><rect x="821" y="483" width="1" height="29" fill="#000"/><rect x="819" y="483" width="5" height="14" fill="#000"/><rect x="829" y="469" width="1" height="41" fill="#000"/><rect x="827" y="470" width="5" height="27" fill="#000"/><rect x="828" y="471" width="3" height="25" fill="#fff"/><rect x="837" y="466" width="1" height="20" fill="#000"/><rect x="835" y="470" width="5" height="1" fill="#000"/><rect x="845" y="484" width="1" height="6" fill="#000"/><rect x="843" y="487" width="5" height="1" fill="#000"/><rect x="853" y="484" width="1" height="6" fill="#000"/><rect x="851" y="487" width="5" height="2" fill="#000"/><rect x="861" y="476" width="1" height="13" fill="#000"/><rect x="859" y="483" width="5" height="5" fill="#000"/><rect x="860" y="484" width="3" height="3" fill="#fff"/><rect x="869" y="479" width="1" height="21" fill="#000"/><rect x="867" y="483" width="5" height="1" fill="#000"/><rect x="877" y="466" width="1" height="20" fill="#000"/><rect x="875" y="481" width="5" height="3" fill="#000"/><rect x="876" y="482" width="3" height="1" fill="#fff"/><rect x="885" y="463" width="1" height="19" fill="#000"/><rect x="883" y="464" width="5" height="17" fill="#000"/><rect x="884" y="465" width="3" height="15" fill="#fff"/><rect x="893" y="460" width="1" height="10" fill="#000"/><rect x="891" y="464" width="5" height="4" fill="#000"/><rect x="901" y="467" width="1" height="8" fill="#000"/><rect x="899" y="467" width="5" height="2" fill="#000"/><rect x="909" y="447" width="1" height="23" fill="#000"/><rect x="907" y="449" width="5" height="20" fill="#000"/><rect x="908" y="450" width="3" height="18" fill="#fff"/><rect x="917" y="426" width="1" height="24" fill="#000"/><rect x="915" y="428" width="5" height="21" fill="#000"/><rect x="916" y="429" width="3" height="19" fill="#fff"/><rect x="925" y="417" width="1" height="25" fill="#000"/><rect x="923" y="428" width="5" height="1" fill="#000"/><rect x="933" y="415" width="1" height="15" fill="#000"/><rect x="931" y="429" width="5" height="1" fill="#000"/><rect x="941" y="423" width="1" height="9" fill="#000"/><rect x="939" y="426" width="5" height="4" fill="#000"/><rect x="940" y="427" width="3" height="2" fill="#fff"/><rect x="949" y="421" width="1" height="8" fill="#000"/><rect x="947" y="424" width="5" height="3" fill="#000"/><rect x="948" y="425" width="3" height="1" fill="#fff"/><rect x="957" y="423" width="1" height="14" fill="#000"/><rect x="955" y="424" width="5" height="4" fill="#000"/><rect x="965" y="378" width="1" height="51" fill="#000"/><rect x="963" y="382" width="5" height="46" fill="#000"/><rect x="964" y="383" width="3" height="44" fill="#fff"/><rect x="973" y="337" width="1" height="46" fill="#000"/><rect x="971" y="344" width="5" height="37" fill="#000"/><rect x="972" y="345" width="3" height="35" fill="#fff"/><rect x="981" y="342" width="1" height="19" fill="#000"/><rect x="979" y="344" width="5" height="9" fill="#000"/><rect x="989" y="343" width="1" height="12" fill="#000"/><rect x="987" y="344" width="5" height="9" fill="#000"/><rect x="988" y="345" width="3" height="7" fill="#fff"/><rect x="997" y="338" width="1" height="9" fill="#000"/><rect x="995" y="341" width="5" height="4" fill="#000"/><rect x="996" y="342" width="3" height="2" fill="#fff"/><rect x="1005" y="319" width="1" height="29" fill="#000"/><rect x="1003" y="324" width="5" height="17" fill="#000"/><rect x="1004" y="325" width="3" height="15" fill="#fff"/><rect x="1013" y="316" width="1" height="18" fill="#000"/><rect x="1011" y="325" width="5" height="2" fill="#000"/><rect x="1021" y="308" width="1" height="26" fill="#000"/><rect x="1019" y="311" width="5" height="16" fill="#000"/><rect x="1020" y="312" width="3" height="14" fill="#fff"/><rect x="1029" y="304" width="1" height="14" fill="#000"/><rect x="1027" y="307" width="5" height="4" fill="#000"/><rect x="1028" y="308" width="3" height="2" fill="#fff"/><rect x="1037" y="303" width="1" height="10" fill="#000"/><rect x="1035" y="307" width="5" height="3" fill="#000"/><rect x="1045" y="306" width="1" height="7" fill="#000"/><rect x="1043" y="307" width="5" height="3" fill="#000"/><rect x="1044" y="308" width="3" height="1" fill="#fff"/><rect x="1053" y="304" width="1" height="15" fill="#000"/><rect x="1051" y="308" width="5" height="3" fill="#000"/><rect x="1061" y="308" width="1" height="36" fill="#000"/><rect x="1059" y="310" width="5" height="19" fill="#000"/><rect x="1069" y="315" width="1" height="35" fill="#000"/><rect x="1067" y="328" width="5" height="20" fill="#000"/><rect x="1077" y="321" width="1" height="30" fill="#000"/><rect x="1075" y="324" width="5" height="25" fill="#000"/><rect x="1076" y="325" width="3" height="23" fill="#fff"/><rect x="1085" y="322" width="1" height="6" fill="#000"/><rect x="1083" y="323" width="5" height="4" fill="#000"/><rect x="1084" y="324" width="3" height="2" fill="#fff"/><rect x="1093" y="314" width="1" height="10" fill="#000"/><rect x="1091" y="320" width="5" height="3" fill="#000"/><rect x="1092" y="321" width="3" height="1" fill="#fff"/><rect x="1101" y="293" width="1" height="28" fill="#000"/><rect x="1099" y="300" width="5" height="21" fill="#000"/><rect x="1100" y="301" width="3" height="19" fill="#fff"/><rect x="1109" y="295" width="1" height="20" fill="#000"/><rect x="1107" y="300" width="5" height="1" fill="#000"/><rect x="1117" y="296" width="1" height="30" fill="#000"/><rect x="1115" y="301" width="5" height="11" fill="#000"/><rect x="1125" y="309" width="1" height="12" fill="#000"/><rect x="1123" y="311" width="5" height="7" fill="#000"/><rect x="1133" y="314" width="1" height="12" fill="#000"/><rect x="1131" y="317" width="5" height="2" fill="#000"/><rect x="1141" y="311" width="1" height="10" fill="#000"/><rect x="1139" y="314" width="5" height="5" fill="#000"/><rect x="1140" y="315" width="3" height="3" fill="#fff"/><rect x="1149" y="305" width="1" height="19" fill="#000"/><rect x="1147" y="314" width="5" height="9" fill="#000"/><rect x="1157" y="286" width="1" height="42" fill="#000"/><rect x="1155" y="296" width="5" height="26" fill="#000"/><rect x="1156" y="297" width="3" height="24" fill="#fff"/><rect x="1165" y="292" width="1" height="20" fill="#000"/><rect x="1163" y="295" width="5" height="6" fill="#000"/><rect x="1173" y="268" width="1" height="36" fill="#000"/><rect x="1171" y="276" width="5" height="25" fill="#000"/><rect x="1172" y="277" width="3" height="23" fill="#fff"/><rect x="1181" y="273" width="1" height="71" fill="#000"/><rect x="1179" y="276" width="5" height="55" fill="#000"/><rect x="1189" y="323" width="1" height="9" fill="#000"/><rect x="1187" y="324" width="5" height="7" fill="#000"/><rect x="1188" y="325" width="3" height="5" fill="#fff"/><rect x="1197" y="317" width="1" height="25" fill="#000"/><rect x="1195" y="324" width="5" height="17" fill="#000"/><rect x="1205" y="308" width="1" height="36" fill="#000"/><rect x="1203" y="314" width="5" height="27" fill="#000"/><rect x="1204" y="315" width="3" height="25" fill="#fff"/><rect x="1213" y="289" width="1" height="33" fill="#000"/><rect x="1211" y="295" width="5" height="20" fill="#000"/><rect x="1212" y="296" width="3" height="18" fill="#fff"/><rect x="1221" y="273" width="1" height="30" fill="#000"/><rect x="1219" y="273" width="5" height="22" fill="#000"/><rect x="1220" y="274" width="3" height="20" fill="#fff"/><rect x="1229" y="269" width="1" height="17" fill="#000"/><rect x="1227" y="273" width="5" height="7" fill="#000"/><rect x="1237" y="258" width="1" height="22" fill="#000"/><rect x="1235" y="262" width="5" height="18" fill="#000"/><rect x="1236" y="263" width="3" height="16" fill="#fff"/><rect x="1245" y="262" width="1" height="13" fill="#000"/><rect x="1243" y="262" width="5" height="3" fill="#000"/><rect x="1253" y="264" width="1" height="51" fill="#000"/><rect x="1251" y="264" width="5" height="29" fill="#000"/><rect x="1261" y="292" width="1" height="53" fill="#000"/><rect x="1259" y="292" width="5" height="45" fill="#000"/><rect x="1269" y="321" width="1" height="67" fill="#000"/><rect x="1267" y="325" width="5" height="11" fill="#000"/><rect x="1268" y="326" width="3" height="9" fill="#fff"/><rect x="1277" y="73" width="1" height="256" fill="#000"/><rect x="1275" y="81" width="5" height="246" fill="#000"/><rect x="1276" y="82" width="3" height="244" fill="#fff"/><rect x="1285" y="56" width="1" height="45" fill="#000"/><rect x="1283" y="77" width="5" height="5" fill="#000"/><rect x="1284" y="78" width="3" height="3" fill="#fff"/><rect x="1293" y="74" width="1" height="50" fill="#000"/><rect x="1291" y="77" width="5" height="46" fill="#000"/><rect x="1301" y="112" width="1" height="53" fill="#000"/><rect x="1299" y="122" width="5" height="21" fill="#000"/><rect x="1309" y="137" width="1" height="60" fill="#000"/><rect x="1307" y="142" width="5" height="34" fill="#000"/><rect x="1317" y="165" width="1" height="31" fill="#000"/><rect x="1315" y="176" width="5" height="3" fill="#000"/><rect x="1325" y="166" width="1" height="10" fill="#000"/><rect x="1323" y="167" width="5" height="9" fill="#000"/><rect x="1324" y="168" width="3" height="7" fill="#fff"/><rect x="1333" y="135" width="1" height="35" fill="#000"/><rect x="1331" y="141" width="5" height="28" fill="#000"/><rect x="1332" y="142" width="3" height="26" fill="#fff"/><rect x="1341" y="118" width="1" height="30" fill="#000"/><rect x="1339" y="141" width="5" height="1" fill="#000"/><rect x="1349" y="141" width="1" height="49" fill="#000"/><rect x="1347" y="141" width="5" height="14" fill="#000"/><rect x="1357" y="149" width="1" height="40" fill="#000"/><rect x="1355" y="154" width="5" height="29" fill="#000"/><rect x="1365" y="169" width="1" height="23" fill="#000"/><rect x="1363" y="170" width="5" height="12" fill="#000"/><rect x="1364" y="171" width="3" height="10" fill="#fff"/><rect x="1373" y="167" width="1" height="18" fill="#000"/><rect x="1371" y="169" width="5" height="16" fill="#000"/></g>
<rect x="1611" y="92" width="4" height="4" fill="#fff" stroke="#ff0000" stroke-width="2"/>
<rect x="0" y="91" width="2" height="6" fill="#ff0000"/>
<rect x="1611" y="138" width="4" height="4" fill="#fff" stroke="#ff4500" stroke-width="2"/>
<rect x="0" y="137" width="2" height="6" fill="#ff4500"/>
<rect x="1611" y="202" width="4" height="4" fill="#fff" stroke="#2cc82c" stroke-width="2"/>
<rect x="0" y="201" width="2" height="6" fill="#2cc82c"/>
<rect x="1611" y="242" width="4" height="4" fill="#fff" stroke="#0000ff" stroke-width="2"/>
<rect x="0" y="241" width="2" height="6" fill="#0000ff"/>
<rect x="1611" y="286" width="4" height="4" fill="#fff" stroke="#0000ff" stroke-width="2"/>
<rect x="0" y="285" width="2" height="6" fill="#0000ff"/>
<rect x="1618" y="179" width="39" height="10.5" fill="#000" />
<text x="1622.6" y="187.9" font-size="9.5" fill="#fff" textLength="32" lengthAdjust="spacingAndGlyphs" >1.33299</text>
<rect x="1618" y="88" width="39" height="11" fill="#ff0000" />
<text x="1622.6" y="97.4" font-size="9.5" fill="#fff" textLength="32" lengthAdjust="spacingAndGlyphs" >1.34531</text>
<rect x="1618" y="134" width="39" height="11" fill="#ff4500" />
<text x="1622.6" y="143.4" font-size="9.5" fill="#fff" textLength="32" lengthAdjust="spacingAndGlyphs" >1.33897</text>
<rect x="1618" y="198" width="39" height="11" fill="#2cc82c" />
<text x="1622.6" y="207.4" font-size="9.5" fill="#fff" textLength="32" lengthAdjust="spacingAndGlyphs" >1.33015</text>
<rect x="1618" y="238" width="39" height="11" fill="#0000ff" />
<text x="1622.6" y="247.4" font-size="9.5" fill="#fff" textLength="32" lengthAdjust="spacingAndGlyphs" >1.32464</text>
<rect x="1618" y="282" width="39" height="11" fill="#0000ff" />
<text x="1622.6" y="291.4" font-size="9.5" fill="#fff" textLength="32" lengthAdjust="spacingAndGlyphs" >1.31858</text>
<path d="M1383.5 28 h10 l-5 5 z" fill="#c0c0c0"/>
<g shape-rendering="crispEdges"><rect x="5" y="730" width="1" height="13" fill="#c0c0c0"/><rect x="13" y="730" width="1" height="15" fill="#c0c0c0"/><rect x="21" y="730" width="1" height="18" fill="#c0c0c0"/><rect x="29" y="730" width="1" height="21" fill="#c0c0c0"/><rect x="37" y="730" width="1" height="24" fill="#c0c0c0"/><rect x="45" y="730" width="1" height="25" fill="#c0c0c0"/><rect x="53" y="730" width="1" height="25" fill="#c0c0c0"/><rect x="61" y="730" width="1" height="29" fill="#c0c0c0"/><rect x="69" y="730" width="1" height="33" fill="#c0c0c0"/><rect x="77" y="730" width="1" height="35" fill="#c0c0c0"/><rect x="85" y="730" width="1" height="37" fill="#c0c0c0"/><rect x="93" y="730" width="1" height="38" fill="#c0c0c0"/><rect x="101" y="730" width="1" height="40" fill="#c0c0c0"/><rect x="109" y="730" width="1" height="42" fill="#c0c0c0"/><rect x="117" y="730" width="1" height="45" fill="#c0c0c0"/><rect x="125" y="730" width="1" height="45" fill="#c0c0c0"/><rect x="133" y="730" width="1" height="46" fill="#c0c0c0"/><rect x="141" y="730" width="1" height="42" fill="#c0c0c0"/><rect x="149" y="730" width="1" height="38" fill="#c0c0c0"/><rect x="157" y="730" width="1" height="27" fill="#c0c0c0"/><rect x="165" y="730" width="1" height="21" fill="#c0c0c0"/><rect x="173" y="730" width="1" height="16" fill="#c0c0c0"/><rect x="181" y="730" width="1" height="11" fill="#c0c0c0"/><rect x="189" y="730" width="1" height="9" fill="#c0c0c0"/><rect x="197" y="730" width="1" height="9" fill="#c0c0c0"/><rect x="205" y="730" width="1" height="8" fill="#c0c0c0"/><rect x="213" y="730" width="1" height="5" fill="#c0c0c0"/><rect x="221" y="730" width="1" height="3" fill="#c0c0c0"/><rect x="229" y="730" width="1" height="3" fill="#c0c0c0"/><rect x="245" y="730" width="1" height="2" fill="#c0c0c0"/><rect x="253" y="730" width="1" height="3" fill="#c0c0c0"/><rect x="261" y="730" width="1" height="3" fill="#c0c0c0"/><rect x="277" y="730" width="1" height="2" fill="#c0c0c0"/><rect x="285" y="730" width="1" height="2" fill="#c0c0c0"/><rect x="293" y="730" width="1" height="2" fill="#c0c0c0"/><rect x="309" y="727" width="1" height="4" fill="#c0c0c0"/><rect x="317" y="723" width="1" height="8" fill="#c0c0c0"/><rect x="325" y="720" width="1" height="11" fill="#c0c0c0"/><rect x="333" y="719" width="1" height="12" fill="#c0c0c0"/><rect x="341" y="717" width="1" height="14" fill="#c0c0c0"/><rect x="349" y="713" width="1" height="18" fill="#c0c0c0"/><rect x="357" y="710" width="1" height="21" fill="#c0c0c0"/><rect x="365" y="706" width="1" height="25" fill="#c0c0c0"/><rect x="373" y="701" width="1" height="30" fill="#c0c0c0"/><rect x="381" y="696" width="1" height="35" fill="#c0c0c0"/><rect x="389" y="692" width="1" height="39" fill="#c0c0c0"/><rect x="397" y="687" width="1" height="44" fill="#c0c0c0"/><rect x="405" y="685" width="1" height="46" fill="#c0c0c0"/><rect x="413" y="685" width="1" height="46" fill="#c0c0c0"/><rect x="421" y="685" width="1" height="46" fill="#c0c0c0"/><rect x="429" y="685" width="1" height="46" fill="#c0c0c0"/><rect x="437" y="688" width="1" height="43" fill="#c0c0c0"/><rect x="445" y="691" width="1" height="40" fill="#c0c0c0"/><rect x="453" y="697" width="1" height="34" fill="#c0c0c0"/><rect x="461" y="700" width="1" height="31" fill="#c0c0c0"/><rect x="469" y="705" width="1" height="26" fill="#c0c0c0"/><rect x="477" y="709" width="1" height="22" fill="#c0c0c0"/><rect x="485" y="714" width="1" height="17" fill="#c0c0c0"/><rect x="493" y="717" width="1" height="14" fill="#c0c0c0"/><rect x="501" y="717" width="1" height="14" fill="#c0c0c0"/><rect x="509" y="718" width="1" height="13" fill="#c0c0c0"/><rect x="517" y="717" width="1" height="14" fill="#c0c0c0"/><rect x="525" y="717" width="1" height="14" fill="#c0c0c0"/><rect x="533" y="714" width="1" height="17" fill="#c0c0c0"/><rect x="541" y="716" width="1" height="15" fill="#c0c0c0"/><rect x="549" y="720" width="1" height="11" fill="#c0c0c0"/><rect x="557" y="722" width="1" height="9" fill="#c0c0c0"/><rect x="565" y="724" width="1" height="7" fill="#c0c0c0"/><rect x="573" y="725" width="1" height="6" fill="#c0c0c0"/><rect x="589" y="730" width="1" height="11" fill="#c0c0c0"/><rect x="597" y="730" width="1" height="20" fill="#c0c0c0"/><rect x="605" y="730" width="1" height="24" fill="#c0c0c0"/><rect x="613" y="730" width="1" height="27" fill="#c0c0c0"/><rect x="621" y="730" width="1" height="27" fill="#c0c0c0"/><rect x="629" y="730" width="1" height="25" fill="#c0c0c0"/><rect x="637" y="730" width="1" height="19" fill="#c0c0c0"/><rect x="645" y="730" width="1" height="15" fill="#c0c0c0"/><rect x="653" y="730" width="1" height="12" fill="#c0c0c0"/><rect x="661" y="730" width="1" height="10" fill="#c0c0c0"/><rect x="669" y="730" width="1" height="10" fill="#c0c0c0"/><rect x="677" y="730" width="1" height="11" fill="#c0c0c0"/><rect x="685" y="730" width="1" height="16" fill="#c0c0c0"/><rect x="693" y="730" width="1" height="16" fill="#c0c0c0"/><rect x="701" y="730" width="1" height="17" fill="#c0c0c0"/><rect x="709" y="730" width="1" height="19" fill="#c0c0c0"/><rect x="717" y="730" width="1" height="22" fill="#c0c0c0"/><rect x="725" y="730" width="1" height="17" fill="#c0c0c0"/><rect x="733" y="730" width="1" height="15" fill="#c0c0c0"/><rect x="741" y="730" width="1" height="8" fill="#c0c0c0"/><rect x="757" y="726" width="1" height="5" fill="#c0c0c0"/><rect x="765" y="719" width="1" height="12" fill="#c0c0c0"/><rect x="773" y="718" width="1" height="13" fill="#c0c0c0"/><rect x="781" y="719" width="1" height="12" fill="#c0c0c0"/><rect x="789" y="719" width="1" height="12" fill="#c0c0c0"/><rect x="797" y="719" width="1" height="12" fill="#c0c0c0"/><rect x="805" y="719" width="1" height="12" fill="#c0c0c0"/><rect x="813" y="718" width="1" height="13" fill="#c0c0c0"/><rect x="821" y="720" width="1" height="11" fill="#c0c0c0"/><rect x="829" y="717" width="1" height="14" fill="#c0c0c0"/><rect x="837" y="715" width="1" height="16" fill="#c0c0c0"/><rect x="845" y="717" width="1" height="14" fill="#c0c0c0"/><rect x="853" y="718" width="1" height="13" fill="#c0c0c0"/><rect x="861" y="718" width="1" height="13" fill="#c0c0c0"/><rect x="869" y="719" width="1" height="12" fill="#c0c0c0"/><rect x="877" y="719" width="1" height="12" fill="#c0c0c0"/><rect x="885" y="717" width="1" height="14" fill="#c0c0c0"/><rect x="893" y="716" width="1" height="15" fill="#c0c0c0"/><rect x="901" y="714" width="1" height="17" fill="#c0c0c0"/><rect x="909" y="710" width="1" height="21" fill="#c0c0c0"/><rect x="917" y="704" width="1" height="27" fill="#c0c0c0"/><rect x="925" y="699" width="1" height="32" fill="#c0c0c0"/><rect x="933" y="695" width="1" height="36" fill="#c0c0c0"/><rect x="941" y="693" width="1" height="38" fill="#c0c0c0"/><rect x="949" y="691" width="1" height="40" fill="#c0c0c0"/><rect x="957" y="690" width="1" height="41" fill="#c0c0c0"/><rect x="965" y="682" width="1" height="49" fill="#c0c0c0"/><rect x="973" y="669" width="1" height="62" fill="#c0c0c0"/><rect x="981" y="661" width="1" height="70" fill="#c0c0c0"/><rect x="989" y="655" width="1" height="76" fill="#c0c0c0"/><rect x="997" y="649" width="1" height="82" fill="#c0c0c0"/><rect x="1005" y="643" width="1" height="88" fill="#c0c0c0"/><rect x="1013" y="640" width="1" height="91" fill="#c0c0c0"/><rect x="1021" y="636" width="1" height="95" fill="#c0c0c0"/><rect x="1029" y="633" width="1" height="98" fill="#c0c0c0"/><rect x="1037" y="632" width="1" height="99" fill="#c0c0c0"/><rect x="1045" y="632" width="1" height="99" fill="#c0c0c0"/><rect x="1053" y="634" width="1" height="97" fill="#c0c0c0"/><rect x="1061" y="640" width="1" height="91" fill="#c0c0c0"/><rect x="1069" y="649" width="1" height="82" fill="#c0c0c0"/><rect x="1077" y="652" width="1" height="79" fill="#c0c0c0"/><rect x="1085" y="656" width="1" height="75" fill="#c0c0c0"/><rect x="1093" y="659" width="1" height="72" fill="#c0c0c0"/><rect x="1101" y="659" width="1" height="72" fill="#c0c0c0"/><rect x="1109" y="660" width="1" height="71" fill="#c0c0c0"/><rect x="1117" y="663" width="1" height="68" fill="#c0c0c0"/><rect x="1125" y="667" width="1" height="64" fill="#c0c0c0"/><rect x="1133" y="672" width="1" height="59" fill="#c0c0c0"/><rect x="1141" y="675" width="1" height="56" fill="#c0c0c0"/><rect x="1149" y="680" width="1" height="51" fill="#c0c0c0"/><rect x="1157" y="679" width="1" height="52" fill="#c0c0c0"/><rect x="1165" y="680" width="1" height="51" fill="#c0c0c0"/><rect x="1173" y="677" width="1" height="54" fill="#c0c0c0"/><rect x="1181" y="685" width="1" height="46" fill="#c0c0c0"/><rect x="1189" y="691" width="1" height="40" fill="#c0c0c0"/><rect x="1197" y="699" width="1" height="32" fill="#c0c0c0"/><rect x="1205" y="701" width="1" height="30" fill="#c0c0c0"/><rect x="1213" y="699" width="1" height="32" fill="#c0c0c0"/><rect x="1221" y="694" width="1" height="37" fill="#c0c0c0"/><rect x="1229" y="692" width="1" height="39" fill="#c0c0c0"/><rect x="1237" y="688" width="1" height="43" fill="#c0c0c0"/><rect x="1245" y="685" width="1" height="46" fill="#c0c0c0"/><rect x="1253" y="688" width="1" height="43" fill="#c0c0c0"/><rect x="1261" y="700" width="1" height="31" fill="#c0c0c0"/><rect x="1269" y="707" width="1" height="24" fill="#c0c0c0"/><rect x="1277" y="668" width="1" height="63" fill="#c0c0c0"/><rect x="1285" y="638" width="1" height="93" fill="#c0c0c0"/><rect x="1293" y="624" width="1" height="107" fill="#c0c0c0"/><rect x="1301" y="617" width="1" height="114" fill="#c0c0c0"/><rect x="1309" y="620" width="1" height="111" fill="#c0c0c0"/><rect x="1317" y="623" width="1" height="108" fill="#c0c0c0"/><rect x="1325" y="626" width="1" height="105" fill="#c0c0c0"/><rect x="1333" y="624" width="1" height="107" fill="#c0c0c0"/><rect x="1341" y="623" width="1" height="108" fill="#c0c0c0"/><rect x="1349" y="627" width="1" height="104" fill="#c0c0c0"/><rect x="1357" y="636" width="1" height="95" fill="#c0c0c0"/><rect x="1365" y="641" width="1" height="90" fill="#c0c0c0"/><rect x="1373" y="650" width="1" height="81" fill="#c0c0c0"/></g>
<path d="M1355 623h3v1h-3zM1349 624h3v1h-3zM1361 624h3v1h-3zM1345 625h1v1h-1zM1343 626h2v1h-2zM1367 626h2v1h-2zM1369 627h1v1h-1zM1339 630h1v1h-1zM1338 631h1v2h-1zM1335 636h1v1h-1zM1058 637h3v1h-3zM1064 637h3v1h-3zM1070 637h3v1h-3zM1076 637h2v1h-2zM1334 637h1v1h-1zM1052 638h3v1h-3zM1078 638h1v1h-1zM1082 638h3v1h-3zM1333 638h1v1h-1zM1047 640h2v1h-2zM1088 640h2v1h-2zM1046 641h1v1h-1zM1090 641h1v1h-1zM1042 642h1v1h-1zM1094 642h1v1h-1zM1330 642h1v1h-1zM1040 643h2v1h-2zM1095 643h2v1h-2zM1329 643h1v1h-1zM1100 644h1v1h-1zM1328 644h1v1h-1zM1101 645h2v1h-2zM1035 646h2v1h-2zM1034 647h1v1h-1zM1106 647h3v1h-3zM1324 647h1v1h-1zM1323 648h1v1h-1zM1030 649h1v1h-1zM1112 649h2v1h-2zM1322 649h1v1h-1zM1029 650h1v1h-1zM1114 650h1v1h-1zM1028 651h1v1h-1zM1118 651h1v1h-1zM1119 652h2v1h-2zM1318 652h1v1h-1zM1317 653h1v1h-1zM1023 654h2v1h-2zM1124 654h2v1h-2zM1316 654h1v1h-1zM1022 655h1v1h-1zM1126 655h1v1h-1zM1130 657h1v1h-1zM1131 658h2v1h-2zM1312 658h1v1h-1zM1017 659h2v1h-2zM1311 659h1v1h-1zM1016 660h1v1h-1zM1136 660h2v1h-2zM1310 660h1v1h-1zM1138 661h1v1h-1zM1142 662h1v1h-1zM1143 663h2v1h-2zM1306 663h1v1h-1zM1011 664h2v1h-2zM1148 664h1v1h-1zM1305 664h1v1h-1zM1010 665h1v1h-1zM1149 665h2v1h-2zM1304 665h1v1h-1zM1154 666h3v1h-3zM1006 667h1v1h-1zM1005 668h1v1h-1zM1160 668h2v1h-2zM1300 668h1v1h-1zM1004 669h1v1h-1zM1162 669h1v1h-1zM1299 669h1v1h-1zM1166 670h3v1h-3zM1298 670h1v1h-1zM1172 671h1v1h-1zM999 672h2v1h-2zM1173 672h2v1h-2zM998 673h1v1h-1zM1178 674h3v1h-3zM1294 674h1v1h-1zM1293 675h1v1h-1zM1184 676h2v1h-2zM1292 676h1v1h-1zM993 677h2v1h-2zM1186 677h1v1h-1zM992 678h1v1h-1zM1190 678h1v1h-1zM1191 679h2v1h-2zM1196 680h1v1h-1zM1288 680h1v1h-1zM988 681h1v1h-1zM1197 681h2v1h-2zM1287 681h1v1h-1zM986 682h2v1h-2zM1286 682h1v1h-1zM1202 683h2v1h-2zM982 684h1v1h-1zM1204 684h1v1h-1zM980 685h2v1h-2zM1282 685h1v1h-1zM1208 686h3v1h-3zM1281 686h1v1h-1zM440 687h3v1h-3zM446 687h3v1h-3zM452 687h3v1h-3zM458 687h1v1h-1zM976 687h1v1h-1zM1214 687h1v1h-1zM1280 687h1v1h-1zM434 688h3v1h-3zM459 688h2v1h-2zM464 688h1v1h-1zM975 688h1v1h-1zM1215 688h2v1h-2zM465 689h2v1h-2zM974 689h1v1h-1zM1220 689h3v1h-3zM428 690h3v1h-3zM470 690h3v1h-3zM1226 690h3v1h-3zM1275 690h2v1h-2zM1232 691h3v1h-3zM1238 691h2v1h-2zM1274 691h1v1h-1zM423 692h2v1h-2zM476 692h2v1h-2zM970 692h1v1h-1zM1240 692h1v1h-1zM1244 692h3v1h-3zM1250 692h3v1h-3zM1256 692h1v1h-1zM1270 692h1v1h-1zM422 693h1v1h-1zM478 693h1v1h-1zM969 693h1v1h-1zM1257 693h2v1h-2zM1262 693h3v1h-3zM1268 693h2v1h-2zM417 694h2v1h-2zM968 694h1v1h-1zM416 695h1v1h-1zM482 695h2v1h-2zM412 696h1v1h-1zM484 696h1v1h-1zM963 696h2v1h-2zM410 697h2v1h-2zM962 697h1v1h-1zM488 698h2v1h-2zM406 699h1v1h-1zM490 699h1v1h-1zM957 699h2v1h-2zM404 700h2v1h-2zM956 700h1v1h-1zM494 701h3v1h-3zM952 701h1v1h-1zM400 702h1v1h-1zM500 702h1v1h-1zM950 702h2v1h-2zM398 703h2v1h-2zM501 703h2v1h-2zM944 704h3v1h-3zM393 705h2v1h-2zM506 705h2v1h-2zM940 705h1v1h-1zM392 706h1v1h-1zM508 706h1v1h-1zM938 706h2v1h-2zM388 707h1v1h-1zM512 707h1v1h-1zM934 707h1v1h-1zM386 708h2v1h-2zM513 708h2v1h-2zM932 708h2v1h-2zM518 709h3v1h-3zM382 710h1v1h-1zM927 710h2v1h-2zM380 711h2v1h-2zM524 711h2v1h-2zM926 711h1v1h-1zM526 712h1v1h-1zM530 712h1v1h-1zM375 713h2v1h-2zM531 713h2v1h-2zM536 713h1v1h-1zM920 713h3v1h-3zM374 714h1v1h-1zM537 714h2v1h-2zM909 714h2v1h-2zM914 714h3v1h-3zM370 715h1v1h-1zM542 715h3v1h-3zM902 715h3v1h-3zM908 715h1v1h-1zM368 716h2v1h-2zM548 716h3v1h-3zM554 716h1v1h-1zM890 716h3v1h-3zM896 716h3v1h-3zM555 717h2v1h-2zM560 717h3v1h-3zM566 717h3v1h-3zM836 717h3v1h-3zM842 717h3v1h-3zM848 717h3v1h-3zM854 717h3v1h-3zM860 717h3v1h-3zM866 717h3v1h-3zM872 717h3v1h-3zM878 717h3v1h-3zM884 717h3v1h-3zM364 718h1v1h-1zM572 718h3v1h-3zM825 718h2v1h-2zM830 718h3v1h-3zM362 719h2v1h-2zM578 719h2v1h-2zM818 719h3v1h-3zM824 719h1v1h-1zM580 720h1v1h-1zM812 720h3v1h-3zM356 721h3v1h-3zM584 721h2v1h-2zM807 721h2v1h-2zM350 722h3v1h-3zM586 722h1v1h-1zM806 722h1v1h-1zM345 723h2v1h-2zM590 723h1v1h-1zM801 723h2v1h-2zM344 724h1v1h-1zM591 724h2v1h-2zM800 724h1v1h-1zM338 725h3v1h-3zM796 725h1v1h-1zM596 726h1v1h-1zM794 726h2v1h-2zM332 727h3v1h-3zM597 727h2v1h-2zM790 727h1v1h-1zM326 728h3v1h-3zM788 728h2v1h-2zM314 729h3v1h-3zM320 729h3v1h-3zM602 729h1v1h-1zM309 730h2v1h-2zM603 730h2v1h-2zM784 730h1v1h-1zM308 731h1v1h-1zM782 731h2v1h-2zM273 732h2v1h-2zM278 732h3v1h-3zM284 732h3v1h-3zM290 732h3v1h-3zM296 732h3v1h-3zM302 732h3v1h-3zM266 733h3v1h-3zM272 733h1v1h-1zM608 733h2v1h-2zM777 733h2v1h-2zM254 734h3v1h-3zM260 734h3v1h-3zM610 734h1v1h-1zM776 734h1v1h-1zM2 735h2v1h-2zM248 735h3v1h-3zM772 735h1v1h-1zM4 736h1v1h-1zM242 736h3v1h-3zM614 736h1v1h-1zM770 736h2v1h-2zM8 737h3v1h-3zM237 737h2v1h-2zM615 737h2v1h-2zM236 738h1v1h-1zM766 738h1v1h-1zM14 739h2v1h-2zM230 739h3v1h-3zM620 739h1v1h-1zM764 739h2v1h-2zM16 740h1v1h-1zM226 740h1v1h-1zM621 740h2v1h-2zM20 741h2v1h-2zM224 741h2v1h-2zM758 741h3v1h-3zM22 742h1v1h-1zM26 742h1v1h-1zM220 742h1v1h-1zM626 742h1v1h-1zM27 743h2v1h-2zM218 743h2v1h-2zM627 743h2v1h-2zM753 743h2v1h-2zM32 744h2v1h-2zM694 744h1v1h-1zM698 744h3v1h-3zM704 744h3v1h-3zM710 744h3v1h-3zM752 744h1v1h-1zM34 745h1v1h-1zM214 745h1v1h-1zM632 745h1v1h-1zM686 745h3v1h-3zM692 745h2v1h-2zM716 745h3v1h-3zM722 745h3v1h-3zM728 745h2v1h-2zM746 745h3v1h-3zM38 746h3v1h-3zM212 746h2v1h-2zM633 746h2v1h-2zM675 746h2v1h-2zM680 746h3v1h-3zM730 746h1v1h-1zM734 746h3v1h-3zM740 746h3v1h-3zM44 747h3v1h-3zM638 747h3v1h-3zM669 747h2v1h-2zM674 747h1v1h-1zM50 748h3v1h-3zM207 748h2v1h-2zM668 748h1v1h-1zM56 749h3v1h-3zM206 749h1v1h-1zM644 749h3v1h-3zM658 749h1v1h-1zM662 749h3v1h-3zM62 750h2v1h-2zM650 750h3v1h-3zM656 750h2v1h-2zM64 751h1v1h-1zM202 751h1v1h-1zM68 752h3v1h-3zM200 752h2v1h-2zM74 754h2v1h-2zM196 754h1v1h-1zM76 755h1v1h-1zM194 755h2v1h-2zM80 756h2v1h-2zM82 757h1v1h-1zM86 757h1v1h-1zM190 757h1v1h-1zM87 758h2v1h-2zM188 758h2v1h-2zM92 759h2v1h-2zM94 760h1v1h-1zM182 760h3v1h-3zM98 761h3v1h-3zM178 762h1v1h-1zM104 763h3v1h-3zM176 763h2v1h-2zM110 764h2v1h-2zM112 765h1v1h-1zM116 765h1v1h-1zM172 765h1v1h-1zM117 766h2v1h-2zM170 766h2v1h-2zM122 767h1v1h-1zM123 768h2v1h-2zM165 768h2v1h-2zM128 769h3v1h-3zM164 769h1v1h-1zM134 770h3v1h-3zM158 770h3v1h-3zM140 771h3v1h-3zM146 771h3v1h-3zM152 771h3v1h-3z" fill="#ff0000" shape-rendering="crispEdges"/>
<text x="1.4" y="620" font-size="10" fill="#000" textLength="147.4" lengthAdjust="spacingAndGlyphs" >MACD(12,26,9) 0.004956 0.006149</text>
<path d="M0 823.5 H1616" stroke="#c0c0c0" stroke-width="1" stroke-dasharray="3,3" shape-rendering="crispEdges"/>
<path d="M0 877.5 H1616" stroke="#c0c0c0" stroke-width="1" stroke-dasharray="3,3" shape-rendering="crispEdges"/>
<path d="M0 940.5 H1616" stroke="#c0c0c0" stroke-width="1" stroke-dasharray="3,3" shape-rendering="crispEdges"/>
<path d="M1025 816h6v1h-6zM1020 817h5v1h-5zM1031 817h2v1h-2zM973 818h1v1h-1zM1004 818h3v1h-3zM1017 818h3v1h-3zM1033 818h3v1h-3zM1041 818h6v1h-6zM972 819h1v1h-1zM974 819h1v1h-1zM1001 819h3v1h-3zM1007 819h4v1h-4zM1015 819h2v1h-2zM1036 819h5v1h-5zM1047 819h2v1h-2zM971 820h1v1h-1zM975 820h2v1h-2zM999 820h2v1h-2zM1011 820h4v1h-4zM1049 820h3v1h-3zM970 821h1v1h-1zM977 821h1v1h-1zM995 821h4v1h-4zM1052 821h2v1h-2zM969 822h1v1h-1zM978 822h1v1h-1zM991 822h4v1h-4zM1053 822h1v1h-1zM968 823h1v1h-1zM979 823h2v1h-2zM985 823h6v1h-6zM1054 823h1v2h-1zM967 824h1v1h-1zM981 824h4v1h-4zM966 825h1v1h-1zM1055 825h1v3h-1zM965 826h1v2h-1zM396 827h2v1h-2zM394 828h2v1h-2zM398 828h1v2h-1zM964 828h1v2h-1zM1056 828h1v2h-1zM392 829h2v1h-2zM390 830h2v1h-2zM399 830h1v1h-1zM963 830h1v2h-1zM1057 830h1v3h-1zM387 831h3v1h-3zM400 831h1v1h-1zM1277 831h9v1h-9zM383 832h4v1h-4zM401 832h1v2h-1zM962 832h1v2h-1zM1277 832h1v3h-1zM1286 832h1v2h-1zM380 833h3v1h-3zM1058 833h1v2h-1zM378 834h2v1h-2zM402 834h1v1h-1zM961 834h1v3h-1zM1287 834h1v2h-1zM376 835h2v1h-2zM403 835h1v1h-1zM1059 835h1v3h-1zM1276 835h1v6h-1zM374 836h2v1h-2zM404 836h1v2h-1zM1288 836h1v2h-1zM373 837h1v1h-1zM960 837h1v2h-1zM371 838h2v1h-2zM405 838h1v1h-1zM1060 838h1v2h-1zM1101 838h9v1h-9zM1289 838h1v1h-1zM369 839h2v1h-2zM406 839h2v1h-2zM959 839h1v2h-1zM1100 839h1v1h-1zM1110 839h1v1h-1zM1173 839h1v3h-1zM1290 839h1v2h-1zM368 840h1v1h-1zM408 840h2v1h-2zM425 840h5v1h-5zM945 840h5v1h-5zM1061 840h1v3h-1zM1099 840h1v1h-1zM1111 840h1v2h-1zM1172 840h1v1h-1zM366 841h2v1h-2zM410 841h2v1h-2zM417 841h8v1h-8zM430 841h1v2h-1zM939 841h6v1h-6zM950 841h2v1h-2zM958 841h1v2h-1zM1098 841h1v1h-1zM1171 841h1v2h-1zM1275 841h1v6h-1zM1291 841h1v2h-1zM365 842h1v1h-1zM412 842h5v1h-5zM917 842h4v1h-4zM935 842h4v1h-4zM952 842h2v1h-2zM1097 842h1v1h-1zM1112 842h1v1h-1zM1174 842h1v4h-1zM364 843h1v1h-1zM431 843h1v2h-1zM916 843h1v1h-1zM921 843h14v1h-14zM954 843h2v1h-2zM957 843h1v2h-1zM1062 843h1v2h-1zM1096 843h1v1h-1zM1113 843h1v1h-1zM1170 843h1v1h-1zM1292 843h1v2h-1zM363 844h1v1h-1zM915 844h1v2h-1zM956 844h1v1h-1zM1095 844h1v1h-1zM1114 844h1v1h-1zM1169 844h1v1h-1zM361 845h2v1h-2zM432 845h1v2h-1zM1063 845h1v2h-1zM1094 845h1v1h-1zM1115 845h1v2h-1zM1168 845h1v1h-1zM1293 845h1v1h-1zM360 846h1v1h-1zM914 846h1v1h-1zM1089 846h5v1h-5zM1157 846h2v1h-2zM1167 846h1v2h-1zM1175 846h1v5h-1zM1294 846h1v1h-1zM359 847h1v1h-1zM433 847h1v1h-1zM913 847h1v1h-1zM1064 847h1v2h-1zM1081 847h8v1h-8zM1116 847h1v1h-1zM1156 847h1v2h-1zM1159 847h2v1h-2zM1274 847h1v7h-1zM1295 847h2v1h-2zM358 848h1v1h-1zM434 848h1v2h-1zM912 848h1v1h-1zM1077 848h4v1h-4zM1117 848h1v1h-1zM1161 848h3v1h-3zM1166 848h1v1h-1zM1297 848h1v1h-1zM349 849h9v1h-9zM911 849h1v2h-1zM1065 849h1v2h-1zM1076 849h1v1h-1zM1118 849h1v1h-1zM1155 849h1v2h-1zM1164 849h2v1h-2zM1298 849h1v1h-1zM348 850h1v1h-1zM435 850h1v2h-1zM1075 850h1v2h-1zM1119 850h2v1h-2zM1299 850h2v1h-2zM347 851h1v2h-1zM910 851h1v1h-1zM1066 851h1v2h-1zM1121 851h1v1h-1zM1154 851h1v2h-1zM1176 851h1v5h-1zM1237 851h4v1h-4zM1301 851h1v1h-1zM436 852h1v2h-1zM909 852h1v1h-1zM1074 852h1v1h-1zM1122 852h1v1h-1zM1139 852h3v1h-3zM1235 852h2v1h-2zM1241 852h5v1h-5zM1302 852h1v1h-1zM346 853h1v1h-1zM908 853h1v2h-1zM1067 853h1v2h-1zM1073 853h1v1h-1zM1123 853h2v1h-2zM1135 853h4v1h-4zM1142 853h1v1h-1zM1153 853h1v1h-1zM1234 853h1v1h-1zM1246 853h1v2h-1zM1303 853h1v1h-1zM1333 853h4v1h-4zM345 854h1v1h-1zM437 854h1v1h-1zM533 854h1v2h-1zM1072 854h1v1h-1zM1125 854h10v1h-10zM1143 854h1v1h-1zM1152 854h1v2h-1zM1221 854h2v1h-2zM1233 854h1v1h-1zM1273 854h1v6h-1zM1304 854h1v1h-1zM1331 854h2v1h-2zM1337 854h5v1h-5zM344 855h1v1h-1zM438 855h1v1h-1zM532 855h1v1h-1zM907 855h1v1h-1zM1068 855h1v2h-1zM1071 855h1v2h-1zM1144 855h1v1h-1zM1220 855h1v1h-1zM1223 855h2v1h-2zM1231 855h2v1h-2zM1247 855h1v2h-1zM1305 855h1v2h-1zM1329 855h2v1h-2zM1342 855h2v1h-2zM343 856h1v2h-1zM439 856h1v1h-1zM531 856h1v2h-1zM534 856h1v2h-1zM906 856h1v1h-1zM1145 856h1v1h-1zM1151 856h1v2h-1zM1177 856h1v4h-1zM1219 856h1v1h-1zM1225 856h3v1h-3zM1230 856h1v1h-1zM1328 856h1v1h-1zM1344 856h2v1h-2zM316 857h3v1h-3zM440 857h1v1h-1zM765 857h1v1h-1zM905 857h1v2h-1zM1069 857h2v1h-2zM1146 857h1v1h-1zM1217 857h2v1h-2zM1228 857h2v1h-2zM1248 857h1v2h-1zM1306 857h1v1h-1zM1326 857h2v1h-2zM1346 857h2v1h-2zM313 858h3v1h-3zM319 858h4v1h-4zM342 858h1v1h-1zM441 858h2v1h-2zM530 858h1v1h-1zM535 858h1v3h-1zM763 858h2v1h-2zM766 858h1v2h-1zM1069 858h1v1h-1zM1147 858h1v1h-1zM1150 858h1v2h-1zM1216 858h1v1h-1zM1307 858h1v1h-1zM1323 858h3v1h-3zM1348 858h2v1h-2zM311 859h2v1h-2zM323 859h3v1h-3zM340 859h2v1h-2zM443 859h1v1h-1zM529 859h1v1h-1zM761 859h2v1h-2zM904 859h1v1h-1zM1148 859h1v1h-1zM1215 859h1v1h-1zM1249 859h1v2h-1zM1308 859h1v1h-1zM1319 859h4v1h-4zM1350 859h1v1h-1zM157 860h1v2h-1zM309 860h2v1h-2zM326 860h2v1h-2zM338 860h2v1h-2zM444 860h1v1h-1zM528 860h1v1h-1zM760 860h1v1h-1zM767 860h1v1h-1zM885 860h2v1h-2zM903 860h1v1h-1zM1149 860h1v1h-1zM1178 860h1v5h-1zM1214 860h1v1h-1zM1272 860h1v7h-1zM1309 860h10v1h-10zM1351 860h1v1h-1zM158 861h1v2h-1zM308 861h1v1h-1zM328 861h2v1h-2zM336 861h2v1h-2zM445 861h1v1h-1zM527 861h1v2h-1zM536 861h1v3h-1zM758 861h2v1h-2zM768 861h1v2h-1zM884 861h1v1h-1zM887 861h4v1h-4zM902 861h1v2h-1zM1213 861h1v1h-1zM1250 861h1v2h-1zM1352 861h1v1h-1zM156 862h1v3h-1zM307 862h1v2h-1zM330 862h2v1h-2zM334 862h2v1h-2zM446 862h1v2h-1zM748 862h10v1h-10zM883 862h1v2h-1zM891 862h6v1h-6zM1212 862h1v1h-1zM1353 862h1v2h-1zM159 863h1v1h-1zM332 863h2v1h-2zM526 863h1v1h-1zM745 863h3v1h-3zM769 863h1v1h-1zM829 863h9v1h-9zM897 863h5v1h-5zM1211 863h1v1h-1zM1251 863h1v2h-1zM160 864h1v1h-1zM306 864h1v1h-1zM447 864h1v2h-1zM523 864h3v1h-3zM537 864h1v2h-1zM743 864h2v1h-2zM770 864h1v2h-1zM828 864h1v2h-1zM838 864h1v2h-1zM882 864h1v1h-1zM1210 864h1v1h-1zM1354 864h1v1h-1zM1364 864h3v1h-3zM155 865h1v3h-1zM161 865h1v2h-1zM305 865h1v1h-1zM519 865h4v1h-4zM741 865h2v1h-2zM881 865h1v1h-1zM1179 865h1v5h-1zM1209 865h1v1h-1zM1252 865h1v2h-1zM1355 865h1v1h-1zM1361 865h3v1h-3zM1367 865h2v1h-2zM304 866h1v1h-1zM448 866h1v2h-1zM461 866h1v1h-1zM513 866h6v1h-6zM538 866h1v3h-1zM740 866h1v2h-1zM771 866h1v1h-1zM827 866h1v2h-1zM839 866h1v1h-1zM880 866h1v1h-1zM1208 866h1v1h-1zM1356 866h1v1h-1zM1359 866h2v1h-2zM1369 866h3v1h-3zM162 867h1v1h-1zM303 867h1v2h-1zM460 867h1v1h-1zM462 867h1v2h-1zM508 867h5v1h-5zM772 867h1v2h-1zM840 867h1v1h-1zM879 867h1v2h-1zM1207 867h1v1h-1zM1253 867h1v3h-1zM1271 867h1v6h-1zM1357 867h2v1h-2zM1372 867h2v1h-2zM154 868h1v3h-1zM163 868h1v1h-1zM449 868h1v1h-1zM459 868h1v1h-1zM506 868h2v1h-2zM739 868h1v2h-1zM826 868h1v2h-1zM841 868h1v2h-1zM1206 868h1v1h-1zM164 869h1v2h-1zM302 869h1v1h-1zM450 869h1v2h-1zM458 869h1v1h-1zM463 869h1v1h-1zM504 869h2v1h-2zM539 869h1v3h-1zM773 869h1v1h-1zM811 869h3v1h-3zM878 869h1v1h-1zM1205 869h1v1h-1zM179 870h3v1h-3zM213 870h1v1h-1zM301 870h1v1h-1zM457 870h1v2h-1zM464 870h1v2h-1zM502 870h2v1h-2zM738 870h1v2h-1zM774 870h2v1h-2zM807 870h4v1h-4zM814 870h1v1h-1zM825 870h1v1h-1zM842 870h1v1h-1zM875 870h3v1h-3zM1180 870h1v4h-1zM1204 870h1v2h-1zM1254 870h1v2h-1zM153 871h1v2h-1zM165 871h4v1h-4zM175 871h4v1h-4zM182 871h2v1h-2zM212 871h1v1h-1zM214 871h2v1h-2zM300 871h1v2h-1zM451 871h1v2h-1zM501 871h1v1h-1zM637 871h2v1h-2zM776 871h1v1h-1zM795 871h12v1h-12zM815 871h1v1h-1zM824 871h1v2h-1zM843 871h1v1h-1zM871 871h4v1h-4zM169 872h6v1h-6zM184 872h1v1h-1zM211 872h1v2h-1zM216 872h2v1h-2zM236 872h2v1h-2zM269 872h1v1h-1zM456 872h1v1h-1zM465 872h1v1h-1zM499 872h2v1h-2zM540 872h1v2h-1zM636 872h1v2h-1zM639 872h4v1h-4zM737 872h1v1h-1zM777 872h2v1h-2zM791 872h4v1h-4zM816 872h1v1h-1zM844 872h1v2h-1zM859 872h12v1h-12zM1203 872h1v1h-1zM1255 872h1v2h-1zM152 873h1v3h-1zM185 873h2v1h-2zM218 873h2v1h-2zM234 873h2v1h-2zM238 873h1v2h-1zM268 873h1v1h-1zM270 873h1v1h-1zM299 873h1v1h-1zM452 873h1v2h-1zM455 873h1v1h-1zM466 873h1v2h-1zM498 873h1v1h-1zM643 873h4v1h-4zM736 873h1v2h-1zM779 873h2v1h-2zM785 873h6v1h-6zM817 873h1v1h-1zM823 873h1v2h-1zM855 873h4v1h-4zM1188 873h2v1h-2zM1202 873h1v2h-1zM1270 873h1v6h-1zM187 874h2v1h-2zM210 874h1v1h-1zM220 874h3v1h-3zM232 874h2v1h-2zM267 874h1v1h-1zM271 874h1v1h-1zM298 874h1v1h-1zM454 874h1v1h-1zM497 874h1v1h-1zM541 874h1v2h-1zM635 874h1v2h-1zM647 874h2v1h-2zM725 874h1v2h-1zM781 874h4v1h-4zM818 874h1v1h-1zM845 874h10v1h-10zM1181 874h1v3h-1zM1185 874h3v1h-3zM1190 874h1v1h-1zM1256 874h1v3h-1zM189 875h1v1h-1zM209 875h1v1h-1zM223 875h4v1h-4zM230 875h2v1h-2zM239 875h1v2h-1zM266 875h1v1h-1zM272 875h1v1h-1zM297 875h1v2h-1zM453 875h1v1h-1zM467 875h1v1h-1zM476 875h2v1h-2zM495 875h2v1h-2zM649 875h3v1h-3zM726 875h2v1h-2zM735 875h1v2h-1zM819 875h1v1h-1zM822 875h1v2h-1zM1183 875h2v1h-2zM1191 875h1v1h-1zM1201 875h1v1h-1zM151 876h1v3h-1zM190 876h1v1h-1zM208 876h1v1h-1zM227 876h3v1h-3zM265 876h1v1h-1zM273 876h1v1h-1zM468 876h1v2h-1zM473 876h3v1h-3zM478 876h1v1h-1zM494 876h1v1h-1zM542 876h1v1h-1zM557 876h1v1h-1zM634 876h1v2h-1zM652 876h10v1h-10zM724 876h1v3h-1zM728 876h1v1h-1zM820 876h1v1h-1zM1182 876h1v1h-1zM1192 876h1v1h-1zM1200 876h1v2h-1zM191 877h1v1h-1zM207 877h1v2h-1zM240 877h1v1h-1zM264 877h1v1h-1zM274 877h1v1h-1zM296 877h1v1h-1zM471 877h2v1h-2zM479 877h1v2h-1zM493 877h1v1h-1zM543 877h1v2h-1zM556 877h1v1h-1zM558 877h2v1h-2zM662 877h1v1h-1zM729 877h2v1h-2zM734 877h1v2h-1zM821 877h1v1h-1zM1193 877h1v1h-1zM1257 877h1v2h-1zM192 878h1v1h-1zM241 878h1v2h-1zM263 878h1v1h-1zM275 878h1v1h-1zM283 878h4v1h-4zM295 878h1v1h-1zM469 878h2v1h-2zM492 878h1v1h-1zM555 878h1v1h-1zM560 878h2v1h-2zM571 878h3v1h-3zM633 878h1v2h-1zM663 878h1v1h-1zM731 878h2v1h-2zM1194 878h1v1h-1zM1199 878h1v1h-1zM150 879h1v3h-1zM193 879h2v1h-2zM206 879h1v1h-1zM262 879h1v1h-1zM276 879h1v1h-1zM279 879h4v1h-4zM287 879h2v1h-2zM294 879h1v2h-1zM480 879h1v1h-1zM491 879h1v1h-1zM544 879h1v1h-1zM554 879h1v1h-1zM562 879h2v1h-2zM567 879h4v1h-4zM574 879h1v2h-1zM664 879h1v1h-1zM723 879h1v3h-1zM733 879h1v1h-1zM1195 879h1v1h-1zM1198 879h1v2h-1zM1258 879h1v3h-1zM1269 879h1v4h-1zM195 880h1v1h-1zM203 880h3v1h-3zM242 880h1v1h-1zM257 880h5v1h-5zM277 880h2v1h-2zM289 880h3v1h-3zM481 880h1v1h-1zM490 880h1v1h-1zM545 880h1v1h-1zM553 880h1v2h-1zM564 880h3v1h-3zM632 880h1v2h-1zM665 880h2v1h-2zM1196 880h1v1h-1zM196 881h1v1h-1zM199 881h4v1h-4zM243 881h1v2h-1zM252 881h5v1h-5zM292 881h2v1h-2zM482 881h1v1h-1zM489 881h1v1h-1zM546 881h1v1h-1zM575 881h1v2h-1zM667 881h1v1h-1zM1197 881h1v1h-1zM149 882h1v3h-1zM197 882h2v1h-2zM250 882h2v1h-2zM483 882h1v2h-1zM488 882h1v1h-1zM547 882h1v2h-1zM552 882h1v1h-1zM631 882h1v2h-1zM668 882h1v1h-1zM722 882h1v3h-1zM1259 882h1v2h-1zM244 883h1v2h-1zM248 883h2v1h-2zM487 883h1v1h-1zM551 883h1v1h-1zM576 883h1v2h-1zM669 883h1v1h-1zM1267 883h2v1h-2zM246 884h2v1h-2zM484 884h1v1h-1zM486 884h1v1h-1zM548 884h1v1h-1zM550 884h1v1h-1zM630 884h1v2h-1zM670 884h2v1h-2zM1260 884h1v2h-1zM1265 884h2v1h-2zM148 885h1v2h-1zM245 885h1v1h-1zM485 885h1v1h-1zM549 885h1v1h-1zM577 885h1v2h-1zM672 885h2v1h-2zM693 885h2v1h-2zM721 885h1v3h-1zM1264 885h1v1h-1zM3 886h3v1h-3zM627 886h3v1h-3zM674 886h2v1h-2zM693 886h1v1h-1zM695 886h2v1h-2zM1261 886h3v1h-3zM0 887h3v1h-3zM6 887h2v1h-2zM147 887h1v2h-1zM578 887h1v2h-1zM623 887h4v1h-4zM676 887h2v1h-2zM692 887h1v2h-1zM697 887h3v1h-3zM1261 887h1v1h-1zM8 888h1v1h-1zM621 888h2v1h-2zM678 888h1v2h-1zM700 888h3v1h-3zM720 888h1v3h-1zM9 889h2v1h-2zM146 889h1v2h-1zM579 889h1v2h-1zM620 889h1v2h-1zM691 889h1v2h-1zM703 889h4v1h-4zM11 890h2v1h-2zM679 890h1v2h-1zM707 890h3v1h-3zM13 891h1v1h-1zM145 891h1v2h-1zM580 891h1v2h-1zM619 891h1v2h-1zM690 891h1v2h-1zM710 891h1v1h-1zM719 891h1v3h-1zM14 892h1v1h-1zM680 892h1v2h-1zM711 892h1v1h-1zM15 893h1v1h-1zM144 893h1v2h-1zM581 893h1v2h-1zM618 893h1v1h-1zM689 893h1v2h-1zM712 893h1v1h-1zM16 894h1v1h-1zM617 894h1v2h-1zM681 894h1v1h-1zM713 894h1v1h-1zM718 894h1v3h-1zM17 895h1v2h-1zM45 895h4v1h-4zM143 895h1v2h-1zM582 895h1v2h-1zM682 895h1v2h-1zM688 895h1v2h-1zM714 895h1v1h-1zM44 896h1v1h-1zM49 896h5v1h-5zM616 896h1v1h-1zM715 896h1v1h-1zM18 897h1v1h-1zM43 897h1v1h-1zM54 897h1v2h-1zM142 897h1v2h-1zM583 897h1v2h-1zM615 897h1v2h-1zM683 897h1v2h-1zM687 897h1v2h-1zM716 897h2v1h-2zM19 898h1v1h-1zM42 898h1v1h-1zM717 898h1v1h-1zM20 899h1v1h-1zM25 899h5v1h-5zM41 899h1v2h-1zM55 899h1v1h-1zM141 899h1v2h-1zM584 899h1v2h-1zM605 899h2v1h-2zM614 899h1v2h-1zM684 899h1v2h-1zM686 899h1v2h-1zM21 900h4v1h-4zM30 900h2v1h-2zM56 900h1v2h-1zM604 900h1v2h-1zM607 900h4v1h-4zM32 901h1v1h-1zM40 901h1v1h-1zM140 901h1v2h-1zM585 901h1v2h-1zM611 901h3v1h-3zM685 901h1v1h-1zM33 902h2v1h-2zM39 902h1v1h-1zM57 902h1v1h-1zM603 902h1v1h-1zM35 903h2v1h-2zM38 903h1v1h-1zM58 903h1v2h-1zM139 903h1v2h-1zM586 903h1v2h-1zM602 903h1v1h-1zM37 904h1v1h-1zM601 904h1v2h-1zM59 905h1v1h-1zM138 905h1v2h-1zM587 905h1v2h-1zM60 906h1v2h-1zM600 906h1v1h-1zM137 907h1v1h-1zM588 907h1v2h-1zM599 907h1v1h-1zM61 908h4v1h-4zM136 908h1v2h-1zM598 908h1v2h-1zM65 909h14v1h-14zM589 909h1v2h-1zM79 910h4v1h-4zM135 910h1v2h-1zM590 910h8v1h-8zM83 911h11v1h-11zM94 912h2v1h-2zM125 912h2v1h-2zM134 912h1v2h-1zM96 913h1v1h-1zM124 913h1v2h-1zM127 913h4v1h-4zM97 914h2v1h-2zM131 914h3v1h-3zM99 915h2v1h-2zM123 915h1v1h-1zM101 916h2v1h-2zM122 916h1v1h-1zM103 917h2v1h-2zM121 917h1v2h-1zM105 918h3v1h-3zM108 919h2v1h-2zM120 919h1v1h-1zM110 920h2v1h-2zM119 920h1v1h-1zM112 921h2v1h-2zM118 921h1v2h-1zM114 922h2v1h-2zM116 923h2v1h-2z" fill="#1e90ff" shape-rendering="crispEdges"/>
<text x="1.4" y="799" font-size="10" fill="#000" textLength="67.1" lengthAdjust="spacingAndGlyphs" >RSI(14) 55.1952</text>
<path d="M0 38.5 L3.3 34.5 L6.6 38.5 Z" fill="#000"/>
<text x="12.2" y="38.8" font-size="10" fill="#000" textLength="203.6" lengthAdjust="spacingAndGlyphs" >GBPUSD-,H4&#160;&#160;1.33495 1.33528 1.33294 1.33299</text>
<defs>
<linearGradient id="rt" x1="0" y1="0" x2="0" y2="1"><stop offset="0" stop-color="#f85454"/><stop offset="1" stop-color="#dc3434"/></linearGradient>
<linearGradient id="rb" gradientUnits="userSpaceOnUse" x1="0" y1="71.5" x2="0" y2="111"><stop offset="0" stop-color="#d83030"/><stop offset="0.55" stop-color="#c41818"/><stop offset="1" stop-color="#ae0000"/></linearGradient>
<linearGradient id="sp" x1="0" y1="0" x2="0" y2="1"><stop offset="0" stop-color="#f4f4f4"/><stop offset="0.5" stop-color="#e2e2e2"/><stop offset="1" stop-color="#cfcfcf"/></linearGradient>
</defs>
<rect x="0" y="47" width="221.5" height="64.5" fill="#fff" />
<rect x="1" y="48" width="51" height="24" fill="url(#rt)" />
<rect x="167" y="48" width="52" height="24" fill="url(#rt)" />
<rect x="1" y="71.5" width="108" height="39.5" fill="url(#rb)" />
<rect x="111" y="71.5" width="108" height="39.5" fill="url(#rb)" />
<rect x="4" y="71" width="44" height="1" fill="#f08080" />
<rect x="171" y="71" width="44" height="1" fill="#f08080" />
<rect x="0.5" y="47.5" width="51.5" height="1" fill="#e04040" />
<rect x="167" y="47.5" width="52" height="1" fill="#e04040" />
<rect x="54.5" y="48.5" width="110" height="20" fill="#fff" stroke="#a8b0b8" stroke-width="1"/>
<rect x="56" y="50" width="19" height="17" fill="url(#sp)" stroke="#b8b8b8" stroke-width="0.8"/>
<rect x="144" y="50" width="19" height="17" fill="url(#sp)" stroke="#b8b8b8" stroke-width="0.8"/>
<path d="M62.5 56 h5 l-2.5 3 z" fill="#4a5ad0"/><path d="M151 59 h5 l-2.5 -3 z" fill="#4a5ad0"/>
<text x="139.5" y="61.8" font-size="12.5" fill="#111" textLength="23" lengthAdjust="spacingAndGlyphs" text-anchor="end" >1.00</text>
<text x="12.5" y="62.8" font-size="12" fill="#fff" textLength="25.3" lengthAdjust="spacingAndGlyphs" >SELL</text>
<text x="180.5" y="62.8" font-size="12" fill="#fff" textLength="23" lengthAdjust="spacingAndGlyphs" >BUY</text>
<text x="20.5" y="101.7" font-size="11.5" fill="#fff" textLength="23.2" lengthAdjust="spacingAndGlyphs" font-weight="bold" >1.33</text>
<text x="130.5" y="101.7" font-size="11.5" fill="#fff" textLength="23.2" lengthAdjust="spacingAndGlyphs" font-weight="bold" >1.33</text>
<text x="48" y="101.7" font-size="33" fill="#fff" textLength="34" lengthAdjust="spacingAndGlyphs" stroke="url(#rb)" stroke-width="0.9">29</text>
<text x="159" y="101.7" font-size="33" fill="#fff" textLength="34" lengthAdjust="spacingAndGlyphs" stroke="url(#rb)" stroke-width="0.9">39</text>
<text x="87.3" y="85.8" font-size="11" fill="#fff" textLength="6.4" lengthAdjust="spacingAndGlyphs" font-weight="bold" >9</text>
<text x="198.3" y="85.8" font-size="11" fill="#fff" textLength="6.4" lengthAdjust="spacingAndGlyphs" font-weight="bold" >8</text>
</svg>
</body></html>
